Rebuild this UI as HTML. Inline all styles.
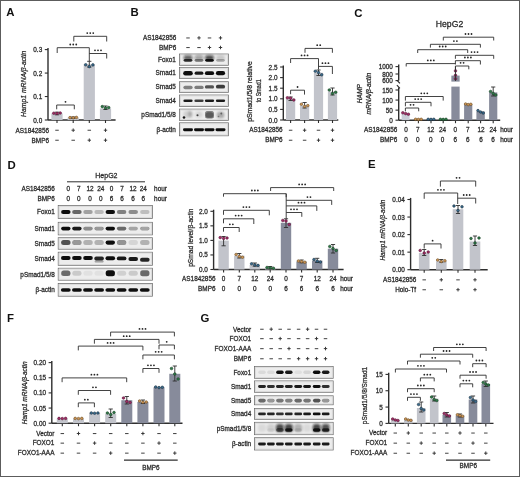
<!DOCTYPE html>
<html><head><meta charset="utf-8"><style>
html,body{margin:0;padding:0;background:#fff;}
body{width:520px;height:477px;overflow:hidden;}
svg{display:block;font-family:"Liberation Sans", sans-serif;will-change:transform;filter:blur(0.3px);}
</style></head><body>
<svg width="520" height="477" viewBox="0 0 520 477">
<defs>
<filter id="b0" x="-100%" y="-100%" width="300%" height="300%"><feGaussianBlur stdDeviation="0.4"/></filter>
<filter id="b1" x="-50%" y="-100%" width="200%" height="300%"><feGaussianBlur stdDeviation="0.55"/></filter>
<filter id="b2" x="-50%" y="-100%" width="200%" height="300%"><feGaussianBlur stdDeviation="1.2"/></filter>
</defs>
<rect x="0" y="0" width="520" height="477" fill="#fff"/>
<text x="6.3" y="16.2" font-size="11.4" text-anchor="start" font-weight="bold" font-style="normal" fill="#111">A</text>
<line x1="48" y1="48.0" x2="48" y2="120.0" stroke="#2e2e2e" stroke-width="1.4"/>
<line x1="44.8" y1="120.0" x2="48" y2="120.0" stroke="#2e2e2e" stroke-width="1.1"/>
<text x="42.199999999999996" y="122.5" font-size="6.4" text-anchor="end" font-weight="normal" font-style="normal" fill="#2a2a2a" stroke="#2a2a2a" stroke-width="0.26">0.0</text>
<line x1="44.8" y1="96.53333333333333" x2="48" y2="96.53333333333333" stroke="#2e2e2e" stroke-width="1.1"/>
<text x="42.199999999999996" y="99.03333333333333" font-size="6.4" text-anchor="end" font-weight="normal" font-style="normal" fill="#2a2a2a" stroke="#2a2a2a" stroke-width="0.26">0.1</text>
<line x1="44.8" y1="73.06666666666666" x2="48" y2="73.06666666666666" stroke="#2e2e2e" stroke-width="1.1"/>
<text x="42.199999999999996" y="75.56666666666666" font-size="6.4" text-anchor="end" font-weight="normal" font-style="normal" fill="#2a2a2a" stroke="#2a2a2a" stroke-width="0.26">0.2</text>
<line x1="44.8" y1="49.599999999999994" x2="48" y2="49.599999999999994" stroke="#2e2e2e" stroke-width="1.1"/>
<text x="42.199999999999996" y="52.099999999999994" font-size="6.4" text-anchor="end" font-weight="normal" font-style="normal" fill="#2a2a2a" stroke="#2a2a2a" stroke-width="0.26">0.3</text>
<line x1="48" y1="120.0" x2="115.6" y2="120.0" stroke="#2e2e2e" stroke-width="1.4"/>
<line x1="57" y1="120.0" x2="57" y2="123.0" stroke="#2e2e2e" stroke-width="1.1"/>
<line x1="73.2" y1="120.0" x2="73.2" y2="123.0" stroke="#2e2e2e" stroke-width="1.1"/>
<line x1="89.3" y1="120.0" x2="89.3" y2="123.0" stroke="#2e2e2e" stroke-width="1.1"/>
<line x1="105.5" y1="120.0" x2="105.5" y2="123.0" stroke="#2e2e2e" stroke-width="1.1"/>
<rect x="51.40" y="113.40" width="11.20" height="6.60" fill="#c2c4cb"/>
<rect x="67.60" y="117.60" width="11.20" height="2.40" fill="#c2c4cb"/>
<rect x="83.70" y="64.40" width="11.20" height="55.60" fill="#c2c4cb"/>
<rect x="99.90" y="108.40" width="11.20" height="11.60" fill="#c2c4cb"/>
<line x1="57" y1="112.2" x2="57" y2="114.8" stroke="#2e2e2e" stroke-width="0.9"/>
<line x1="54.9" y1="112.2" x2="59.1" y2="112.2" stroke="#2e2e2e" stroke-width="0.9"/>
<line x1="54.9" y1="114.8" x2="59.1" y2="114.8" stroke="#2e2e2e" stroke-width="0.9"/>
<circle cx="53.80" cy="113.20" r="1.32" fill="#a02e64" stroke="#551236" stroke-width="0.55"/>
<circle cx="57.00" cy="113.40" r="1.32" fill="#a02e64" stroke="#551236" stroke-width="0.55"/>
<circle cx="60.20" cy="113.00" r="1.32" fill="#a02e64" stroke="#551236" stroke-width="0.55"/>
<line x1="73.2" y1="117.0" x2="73.2" y2="118.4" stroke="#2e2e2e" stroke-width="0.9"/>
<line x1="71.10000000000001" y1="117.0" x2="75.3" y2="117.0" stroke="#2e2e2e" stroke-width="0.9"/>
<line x1="71.10000000000001" y1="118.4" x2="75.3" y2="118.4" stroke="#2e2e2e" stroke-width="0.9"/>
<circle cx="70.00" cy="117.60" r="1.32" fill="#cc9656" stroke="#654520" stroke-width="0.55"/>
<circle cx="73.20" cy="117.80" r="1.32" fill="#cc9656" stroke="#654520" stroke-width="0.55"/>
<circle cx="76.40" cy="117.40" r="1.32" fill="#cc9656" stroke="#654520" stroke-width="0.55"/>
<line x1="89.3" y1="61.3" x2="89.3" y2="67.1" stroke="#2e2e2e" stroke-width="0.9"/>
<line x1="87.2" y1="61.3" x2="91.39999999999999" y2="61.3" stroke="#2e2e2e" stroke-width="0.9"/>
<line x1="87.2" y1="67.1" x2="91.39999999999999" y2="67.1" stroke="#2e2e2e" stroke-width="0.9"/>
<circle cx="85.70" cy="64.80" r="1.32" fill="#3a6c8e" stroke="#182c3a" stroke-width="0.55"/>
<circle cx="89.30" cy="66.60" r="1.32" fill="#3a6c8e" stroke="#182c3a" stroke-width="0.55"/>
<circle cx="92.90" cy="64.90" r="1.32" fill="#3a6c8e" stroke="#182c3a" stroke-width="0.55"/>
<line x1="105.5" y1="106.0" x2="105.5" y2="109.5" stroke="#2e2e2e" stroke-width="0.9"/>
<line x1="103.4" y1="106.0" x2="107.6" y2="106.0" stroke="#2e2e2e" stroke-width="0.9"/>
<line x1="103.4" y1="109.5" x2="107.6" y2="109.5" stroke="#2e2e2e" stroke-width="0.9"/>
<circle cx="102.30" cy="106.60" r="1.32" fill="#2f7a4a" stroke="#143a20" stroke-width="0.55"/>
<circle cx="105.50" cy="108.00" r="1.32" fill="#2f7a4a" stroke="#143a20" stroke-width="0.55"/>
<circle cx="108.70" cy="107.60" r="1.32" fill="#2f7a4a" stroke="#143a20" stroke-width="0.55"/>
<path d="M56.7,109.3 L56.7,105.0 L74.3,105.0 L74.3,109.3" stroke="#2e2e2e" stroke-width="0.9" fill="none"/>
<circle cx="65.50" cy="101.80" r="0.9" fill="#262626"/>
<path d="M57.2,53.0 L57.2,47.7 L89.3,47.7 L89.3,61.2" stroke="#2e2e2e" stroke-width="0.9" fill="none"/>
<circle cx="70.25" cy="44.50" r="0.9" fill="#262626"/>
<circle cx="73.25" cy="44.50" r="0.9" fill="#262626"/>
<circle cx="76.25" cy="44.50" r="0.9" fill="#262626"/>
<path d="M89.3,53.5 L89.3,53.5 L106.7,53.5 L106.7,58.5" stroke="#2e2e2e" stroke-width="0.9" fill="none"/>
<circle cx="95.00" cy="50.30" r="0.9" fill="#262626"/>
<circle cx="98.00" cy="50.30" r="0.9" fill="#262626"/>
<circle cx="101.00" cy="50.30" r="0.9" fill="#262626"/>
<path d="M73.8,41.5 L73.8,36.3 L106.7,36.3 L106.7,41.5" stroke="#2e2e2e" stroke-width="0.9" fill="none"/>
<circle cx="87.25" cy="33.10" r="0.9" fill="#262626"/>
<circle cx="90.25" cy="33.10" r="0.9" fill="#262626"/>
<circle cx="93.25" cy="33.10" r="0.9" fill="#262626"/>
<text x="49" y="132.5" font-size="6.4" text-anchor="end" font-weight="normal" font-style="normal" fill="#2a2a2a" stroke="#2a2a2a" stroke-width="0.26">AS1842856</text>
<text x="49" y="142.5" font-size="6.4" text-anchor="end" font-weight="normal" font-style="normal" fill="#2a2a2a" stroke="#2a2a2a" stroke-width="0.26">BMP6</text>
<line x1="55.25" y1="130.25" x2="58.75" y2="130.25" stroke="#4a4a4a" stroke-width="1.05"/>
<line x1="71.5" y1="130.20000000000002" x2="74.9" y2="130.20000000000002" stroke="#333" stroke-width="0.95"/>
<line x1="73.2" y1="128.45000000000002" x2="73.2" y2="131.95000000000002" stroke="#333" stroke-width="0.95"/>
<line x1="87.55" y1="130.25" x2="91.05" y2="130.25" stroke="#4a4a4a" stroke-width="1.05"/>
<line x1="103.8" y1="130.20000000000002" x2="107.2" y2="130.20000000000002" stroke="#333" stroke-width="0.95"/>
<line x1="105.5" y1="128.45000000000002" x2="105.5" y2="131.95000000000002" stroke="#333" stroke-width="0.95"/>
<line x1="55.25" y1="140.25" x2="58.75" y2="140.25" stroke="#4a4a4a" stroke-width="1.05"/>
<line x1="71.45" y1="140.25" x2="74.95" y2="140.25" stroke="#4a4a4a" stroke-width="1.05"/>
<line x1="87.6" y1="140.20000000000002" x2="91.0" y2="140.20000000000002" stroke="#333" stroke-width="0.95"/>
<line x1="89.3" y1="138.45000000000002" x2="89.3" y2="141.95000000000002" stroke="#333" stroke-width="0.95"/>
<line x1="103.8" y1="140.20000000000002" x2="107.2" y2="140.20000000000002" stroke="#333" stroke-width="0.95"/>
<line x1="105.5" y1="138.45000000000002" x2="105.5" y2="141.95000000000002" stroke="#333" stroke-width="0.95"/>
<text x="26.5" y="83.8" font-size="7.2" text-anchor="middle" font-weight="normal" font-style="italic" fill="#2a2a2a" stroke="#2a2a2a" stroke-width="0.26" transform="rotate(-90 26.5 83.8)" textLength="66.2" lengthAdjust="spacingAndGlyphs">Hamp1 mRNA/β-actin</text>
<text x="130.6" y="16.2" font-size="11.4" text-anchor="start" font-weight="bold" font-style="normal" fill="#111">B</text>
<text x="176.3" y="40" font-size="6.4" text-anchor="end" font-weight="normal" font-style="normal" fill="#2a2a2a" stroke="#2a2a2a" stroke-width="0.26">AS1842856</text>
<text x="176.3" y="49.6" font-size="6.4" text-anchor="end" font-weight="normal" font-style="normal" fill="#2a2a2a" stroke="#2a2a2a" stroke-width="0.26">BMP6</text>
<line x1="186.25" y1="37.95" x2="189.75" y2="37.95" stroke="#4a4a4a" stroke-width="1.05"/>
<line x1="197.3" y1="37.9" x2="200.7" y2="37.9" stroke="#333" stroke-width="0.95"/>
<line x1="199" y1="36.15" x2="199" y2="39.65" stroke="#333" stroke-width="0.95"/>
<line x1="207.75" y1="37.95" x2="211.25" y2="37.95" stroke="#4a4a4a" stroke-width="1.05"/>
<line x1="218.8" y1="37.9" x2="222.2" y2="37.9" stroke="#333" stroke-width="0.95"/>
<line x1="220.5" y1="36.15" x2="220.5" y2="39.65" stroke="#333" stroke-width="0.95"/>
<line x1="186.25" y1="47.550000000000004" x2="189.75" y2="47.550000000000004" stroke="#4a4a4a" stroke-width="1.05"/>
<line x1="197.25" y1="47.550000000000004" x2="200.75" y2="47.550000000000004" stroke="#4a4a4a" stroke-width="1.05"/>
<line x1="207.8" y1="47.5" x2="211.2" y2="47.5" stroke="#333" stroke-width="0.95"/>
<line x1="209.5" y1="45.75" x2="209.5" y2="49.25" stroke="#333" stroke-width="0.95"/>
<line x1="218.8" y1="47.5" x2="222.2" y2="47.5" stroke="#333" stroke-width="0.95"/>
<line x1="220.5" y1="45.75" x2="220.5" y2="49.25" stroke="#333" stroke-width="0.95"/>
<rect x="179.5" y="54.0" width="48.900000000000006" height="11.299999999999997" fill="#ededed" stroke="#6a6a6a" stroke-width="0.75"/>
<rect x="180.4" y="54.9" width="47.10000000000001" height="9.499999999999996" fill="none" stroke="#d8d8d8" stroke-width="0.8"/>
<text x="175.8" y="61.949999999999996" font-size="6.4" text-anchor="end" font-weight="normal" font-style="normal" fill="#2a2a2a" stroke="#2a2a2a" stroke-width="0.26">Foxo1</text>
<rect x="179.5" y="67.4" width="48.900000000000006" height="11.199999999999989" fill="#ededed" stroke="#6a6a6a" stroke-width="0.75"/>
<rect x="180.4" y="68.30000000000001" width="47.10000000000001" height="9.399999999999988" fill="none" stroke="#d8d8d8" stroke-width="0.8"/>
<text x="175.8" y="75.3" font-size="6.4" text-anchor="end" font-weight="normal" font-style="normal" fill="#2a2a2a" stroke="#2a2a2a" stroke-width="0.26">Smad1</text>
<rect x="179.5" y="81.7" width="48.900000000000006" height="10.899999999999991" fill="#ededed" stroke="#6a6a6a" stroke-width="0.75"/>
<rect x="180.4" y="82.60000000000001" width="47.10000000000001" height="9.09999999999999" fill="none" stroke="#d8d8d8" stroke-width="0.8"/>
<text x="175.8" y="89.45" font-size="6.4" text-anchor="end" font-weight="normal" font-style="normal" fill="#2a2a2a" stroke="#2a2a2a" stroke-width="0.26">Smad5</text>
<rect x="179.5" y="95.0" width="48.900000000000006" height="11.400000000000006" fill="#ededed" stroke="#6a6a6a" stroke-width="0.75"/>
<rect x="180.4" y="95.9" width="47.10000000000001" height="9.600000000000005" fill="none" stroke="#d8d8d8" stroke-width="0.8"/>
<text x="175.8" y="103.0" font-size="6.4" text-anchor="end" font-weight="normal" font-style="normal" fill="#2a2a2a" stroke="#2a2a2a" stroke-width="0.26">Smad4</text>
<rect x="179.5" y="109.1" width="48.900000000000006" height="11.5" fill="#ededed" stroke="#6a6a6a" stroke-width="0.75"/>
<rect x="180.4" y="110.0" width="47.10000000000001" height="9.7" fill="none" stroke="#d8d8d8" stroke-width="0.8"/>
<text x="175.8" y="117.14999999999999" font-size="6.4" text-anchor="end" font-weight="normal" font-style="normal" fill="#2a2a2a" stroke="#2a2a2a" stroke-width="0.26">pSmad1/5/8</text>
<rect x="179.5" y="122.8" width="48.900000000000006" height="13.000000000000014" fill="#ededed" stroke="#6a6a6a" stroke-width="0.75"/>
<rect x="180.4" y="123.7" width="47.10000000000001" height="11.200000000000014" fill="none" stroke="#d8d8d8" stroke-width="0.8"/>
<text x="175.8" y="131.60000000000002" font-size="6.4" text-anchor="end" font-weight="normal" font-style="normal" fill="#2a2a2a" stroke="#2a2a2a" stroke-width="0.26">β-actin</text>
<rect x="183.60" y="55.30" width="8.80" height="5.00" rx="2.50" fill="#111" fill-opacity="0.62" filter="url(#b2)"/>
<rect x="183.70" y="58.90" width="8.60" height="2.80" rx="1.40" fill="#111" fill-opacity="0.85" filter="url(#b1)"/>
<rect x="194.60" y="55.30" width="8.80" height="5.00" rx="2.50" fill="#111" fill-opacity="0.36" filter="url(#b2)"/>
<rect x="194.70" y="58.90" width="8.60" height="2.80" rx="1.40" fill="#111" fill-opacity="0.50" filter="url(#b1)"/>
<rect x="205.10" y="55.30" width="8.80" height="5.00" rx="2.50" fill="#111" fill-opacity="0.72" filter="url(#b2)"/>
<rect x="205.20" y="58.90" width="8.60" height="2.80" rx="1.40" fill="#111" fill-opacity="1.00" filter="url(#b1)"/>
<rect x="216.10" y="55.30" width="8.80" height="5.00" rx="2.50" fill="#111" fill-opacity="0.16" filter="url(#b2)"/>
<rect x="216.20" y="58.90" width="8.60" height="2.80" rx="1.40" fill="#111" fill-opacity="0.28" filter="url(#b1)"/>
<rect x="183.20" y="71.00" width="9.60" height="4.40" rx="2.20" fill="#111" fill-opacity="1.00" filter="url(#b1)"/>
<rect x="194.60" y="71.55" width="8.80" height="3.30" rx="1.65" fill="#111" fill-opacity="0.95" filter="url(#b1)"/>
<rect x="204.90" y="71.30" width="9.20" height="3.80" rx="1.90" fill="#111" fill-opacity="1.00" filter="url(#b1)"/>
<rect x="215.90" y="71.10" width="9.20" height="4.20" rx="2.10" fill="#111" fill-opacity="1.00" filter="url(#b1)"/>
<rect x="183.40" y="85.80" width="9.20" height="3.40" rx="1.70" fill="#111" fill-opacity="0.50" filter="url(#b1)"/>
<rect x="194.40" y="85.80" width="9.20" height="3.20" rx="1.60" fill="#111" fill-opacity="0.52" filter="url(#b1)"/>
<rect x="204.90" y="85.30" width="9.20" height="3.20" rx="1.60" fill="#111" fill-opacity="0.70" filter="url(#b1)"/>
<rect x="215.90" y="84.80" width="9.20" height="3.80" rx="1.90" fill="#111" fill-opacity="0.80" filter="url(#b1)"/>
<rect x="183.40" y="99.50" width="9.20" height="2.60" rx="1.30" fill="#111" fill-opacity="0.95" filter="url(#b1)"/>
<rect x="194.40" y="99.50" width="9.20" height="2.60" rx="1.30" fill="#111" fill-opacity="0.80" filter="url(#b1)"/>
<rect x="204.90" y="99.50" width="9.20" height="2.60" rx="1.30" fill="#111" fill-opacity="0.95" filter="url(#b1)"/>
<rect x="215.90" y="99.50" width="9.20" height="2.60" rx="1.30" fill="#111" fill-opacity="0.95" filter="url(#b1)"/>
<rect x="183.50" y="111.00" width="9.00" height="7.00" rx="2.50" fill="#111" fill-opacity="0.12" filter="url(#b2)"/>
<rect x="188.00" y="111.00" width="4.00" height="6.00" rx="2.50" fill="#111" fill-opacity="0.18" filter="url(#b2)"/>
<circle cx="184.00" cy="117.50" r="1.30" fill="#111" fill-opacity="0.95" filter="url(#b0)"/>
<rect x="195.50" y="111.50" width="7.00" height="6.00" rx="2.50" fill="#111" fill-opacity="0.10" filter="url(#b2)"/>
<circle cx="197.50" cy="115.20" r="1.00" fill="#111" fill-opacity="0.75" filter="url(#b0)"/>
<rect x="205.00" y="111.00" width="9.00" height="7.60" rx="2.50" fill="#111" fill-opacity="0.50" filter="url(#b1)"/>
<rect x="205.75" y="112.25" width="7.50" height="5.50" rx="2.50" fill="#111" fill-opacity="0.30" filter="url(#b1)"/>
<rect x="216.75" y="111.75" width="7.50" height="6.50" rx="2.50" fill="#111" fill-opacity="0.28" filter="url(#b2)"/>
<circle cx="221.30" cy="113.50" r="0.90" fill="#111" fill-opacity="0.50" filter="url(#b0)"/>
<circle cx="218.50" cy="116.50" r="0.80" fill="#111" fill-opacity="0.40" filter="url(#b0)"/>
<rect x="183.00" y="128.35" width="10.00" height="2.90" rx="1.45" fill="#111" fill-opacity="1.00" filter="url(#b1)"/>
<rect x="194.00" y="128.35" width="10.00" height="2.90" rx="1.45" fill="#111" fill-opacity="1.00" filter="url(#b1)"/>
<rect x="204.50" y="128.35" width="10.00" height="2.90" rx="1.45" fill="#111" fill-opacity="1.00" filter="url(#b1)"/>
<rect x="215.50" y="128.35" width="10.00" height="2.90" rx="1.45" fill="#111" fill-opacity="1.00" filter="url(#b1)"/>
<line x1="283.3" y1="65.4" x2="283.3" y2="120.0" stroke="#2e2e2e" stroke-width="1.4"/>
<line x1="280.1" y1="120.0" x2="283.3" y2="120.0" stroke="#2e2e2e" stroke-width="1.1"/>
<text x="277.5" y="122.5" font-size="6.4" text-anchor="end" font-weight="normal" font-style="normal" fill="#2a2a2a" stroke="#2a2a2a" stroke-width="0.26">0.0</text>
<line x1="280.1" y1="109.4" x2="283.3" y2="109.4" stroke="#2e2e2e" stroke-width="1.1"/>
<text x="277.5" y="111.9" font-size="6.4" text-anchor="end" font-weight="normal" font-style="normal" fill="#2a2a2a" stroke="#2a2a2a" stroke-width="0.26">0.5</text>
<line x1="280.1" y1="98.8" x2="283.3" y2="98.8" stroke="#2e2e2e" stroke-width="1.1"/>
<text x="277.5" y="101.3" font-size="6.4" text-anchor="end" font-weight="normal" font-style="normal" fill="#2a2a2a" stroke="#2a2a2a" stroke-width="0.26">1.0</text>
<line x1="280.1" y1="88.2" x2="283.3" y2="88.2" stroke="#2e2e2e" stroke-width="1.1"/>
<text x="277.5" y="90.7" font-size="6.4" text-anchor="end" font-weight="normal" font-style="normal" fill="#2a2a2a" stroke="#2a2a2a" stroke-width="0.26">1.5</text>
<line x1="280.1" y1="77.6" x2="283.3" y2="77.6" stroke="#2e2e2e" stroke-width="1.1"/>
<text x="277.5" y="80.1" font-size="6.4" text-anchor="end" font-weight="normal" font-style="normal" fill="#2a2a2a" stroke="#2a2a2a" stroke-width="0.26">2.0</text>
<line x1="280.1" y1="67.0" x2="283.3" y2="67.0" stroke="#2e2e2e" stroke-width="1.1"/>
<text x="277.5" y="69.5" font-size="6.4" text-anchor="end" font-weight="normal" font-style="normal" fill="#2a2a2a" stroke="#2a2a2a" stroke-width="0.26">2.5</text>
<line x1="283.3" y1="120.0" x2="338.3" y2="120.0" stroke="#2e2e2e" stroke-width="1.4"/>
<line x1="290.6" y1="120.0" x2="290.6" y2="123.0" stroke="#2e2e2e" stroke-width="1.1"/>
<line x1="304.6" y1="120.0" x2="304.6" y2="123.0" stroke="#2e2e2e" stroke-width="1.1"/>
<line x1="318.5" y1="120.0" x2="318.5" y2="123.0" stroke="#2e2e2e" stroke-width="1.1"/>
<line x1="332.5" y1="120.0" x2="332.5" y2="123.0" stroke="#2e2e2e" stroke-width="1.1"/>
<rect x="286.00" y="98.60" width="9.20" height="21.40" fill="#c2c4cb"/>
<rect x="300.00" y="105.50" width="9.20" height="14.50" fill="#c2c4cb"/>
<rect x="313.90" y="72.80" width="9.20" height="47.20" fill="#c2c4cb"/>
<rect x="327.90" y="91.50" width="9.20" height="28.50" fill="#c2c4cb"/>
<line x1="290.6" y1="97.0" x2="290.6" y2="100.5" stroke="#2e2e2e" stroke-width="0.9"/>
<line x1="288.5" y1="97.0" x2="292.70000000000005" y2="97.0" stroke="#2e2e2e" stroke-width="0.9"/>
<line x1="288.5" y1="100.5" x2="292.70000000000005" y2="100.5" stroke="#2e2e2e" stroke-width="0.9"/>
<circle cx="287.40" cy="97.80" r="1.32" fill="#a02e64" stroke="#551236" stroke-width="0.55"/>
<circle cx="290.60" cy="98.20" r="1.32" fill="#a02e64" stroke="#551236" stroke-width="0.55"/>
<circle cx="293.80" cy="100.00" r="1.32" fill="#a02e64" stroke="#551236" stroke-width="0.55"/>
<line x1="304.6" y1="102.5" x2="304.6" y2="108" stroke="#2e2e2e" stroke-width="0.9"/>
<line x1="302.5" y1="102.5" x2="306.70000000000005" y2="102.5" stroke="#2e2e2e" stroke-width="0.9"/>
<line x1="302.5" y1="108" x2="306.70000000000005" y2="108" stroke="#2e2e2e" stroke-width="0.9"/>
<circle cx="301.40" cy="104.20" r="1.32" fill="#cc9656" stroke="#654520" stroke-width="0.55"/>
<circle cx="304.60" cy="106.50" r="1.32" fill="#cc9656" stroke="#654520" stroke-width="0.55"/>
<circle cx="307.80" cy="105.60" r="1.32" fill="#cc9656" stroke="#654520" stroke-width="0.55"/>
<line x1="318.5" y1="70.0" x2="318.5" y2="75.5" stroke="#2e2e2e" stroke-width="0.9"/>
<line x1="316.4" y1="70.0" x2="320.6" y2="70.0" stroke="#2e2e2e" stroke-width="0.9"/>
<line x1="316.4" y1="75.5" x2="320.6" y2="75.5" stroke="#2e2e2e" stroke-width="0.9"/>
<circle cx="315.30" cy="71.20" r="1.32" fill="#3a6c8e" stroke="#182c3a" stroke-width="0.55"/>
<circle cx="318.50" cy="72.50" r="1.32" fill="#3a6c8e" stroke="#182c3a" stroke-width="0.55"/>
<circle cx="321.70" cy="74.80" r="1.32" fill="#3a6c8e" stroke="#182c3a" stroke-width="0.55"/>
<line x1="332.5" y1="88.0" x2="332.5" y2="95.0" stroke="#2e2e2e" stroke-width="0.9"/>
<line x1="330.4" y1="88.0" x2="334.6" y2="88.0" stroke="#2e2e2e" stroke-width="0.9"/>
<line x1="330.4" y1="95.0" x2="334.6" y2="95.0" stroke="#2e2e2e" stroke-width="0.9"/>
<circle cx="329.30" cy="90.00" r="1.32" fill="#2f7a4a" stroke="#143a20" stroke-width="0.55"/>
<circle cx="332.50" cy="93.50" r="1.32" fill="#2f7a4a" stroke="#143a20" stroke-width="0.55"/>
<circle cx="335.70" cy="92.20" r="1.32" fill="#2f7a4a" stroke="#143a20" stroke-width="0.55"/>
<path d="M290.6,94.2 L290.6,90.2 L304.5,90.2 L304.5,94.60000000000001" stroke="#2e2e2e" stroke-width="0.9" fill="none"/>
<circle cx="297.55" cy="87.00" r="0.9" fill="#262626"/>
<path d="M290.6,63.0 L290.6,58.6 L318.5,58.6 L318.5,69.6" stroke="#2e2e2e" stroke-width="0.9" fill="none"/>
<circle cx="301.55" cy="55.40" r="0.9" fill="#262626"/>
<circle cx="304.55" cy="55.40" r="0.9" fill="#262626"/>
<circle cx="307.55" cy="55.40" r="0.9" fill="#262626"/>
<path d="M318.5,66.4 L318.5,66.4 L332.4,66.4 L332.4,74.0" stroke="#2e2e2e" stroke-width="0.9" fill="none"/>
<circle cx="322.45" cy="63.20" r="0.9" fill="#262626"/>
<circle cx="325.45" cy="63.20" r="0.9" fill="#262626"/>
<circle cx="328.45" cy="63.20" r="0.9" fill="#262626"/>
<path d="M305,52.8 L305,48.4 L332.4,48.4 L332.4,52.8" stroke="#2e2e2e" stroke-width="0.9" fill="none"/>
<circle cx="317.20" cy="45.20" r="0.9" fill="#262626"/>
<circle cx="320.20" cy="45.20" r="0.9" fill="#262626"/>
<text x="282.6" y="132.2" font-size="6.4" text-anchor="end" font-weight="normal" font-style="normal" fill="#2a2a2a" stroke="#2a2a2a" stroke-width="0.26">AS1842856</text>
<text x="282.6" y="142.2" font-size="6.4" text-anchor="end" font-weight="normal" font-style="normal" fill="#2a2a2a" stroke="#2a2a2a" stroke-width="0.26">BMP6</text>
<line x1="288.85" y1="130.25" x2="292.35" y2="130.25" stroke="#4a4a4a" stroke-width="1.05"/>
<line x1="302.90000000000003" y1="130.20000000000002" x2="306.3" y2="130.20000000000002" stroke="#333" stroke-width="0.95"/>
<line x1="304.6" y1="128.45000000000002" x2="304.6" y2="131.95000000000002" stroke="#333" stroke-width="0.95"/>
<line x1="316.75" y1="130.25" x2="320.25" y2="130.25" stroke="#4a4a4a" stroke-width="1.05"/>
<line x1="330.8" y1="130.20000000000002" x2="334.2" y2="130.20000000000002" stroke="#333" stroke-width="0.95"/>
<line x1="332.5" y1="128.45000000000002" x2="332.5" y2="131.95000000000002" stroke="#333" stroke-width="0.95"/>
<line x1="288.85" y1="140.25" x2="292.35" y2="140.25" stroke="#4a4a4a" stroke-width="1.05"/>
<line x1="302.85" y1="140.25" x2="306.35" y2="140.25" stroke="#4a4a4a" stroke-width="1.05"/>
<line x1="316.8" y1="140.20000000000002" x2="320.2" y2="140.20000000000002" stroke="#333" stroke-width="0.95"/>
<line x1="318.5" y1="138.45000000000002" x2="318.5" y2="141.95000000000002" stroke="#333" stroke-width="0.95"/>
<line x1="330.8" y1="140.20000000000002" x2="334.2" y2="140.20000000000002" stroke="#333" stroke-width="0.95"/>
<line x1="332.5" y1="138.45000000000002" x2="332.5" y2="141.95000000000002" stroke="#333" stroke-width="0.95"/>
<text x="252.4" y="91.5" font-size="6.8" text-anchor="middle" font-weight="normal" font-style="normal" fill="#2a2a2a" stroke="#2a2a2a" stroke-width="0.26" transform="rotate(-90 252.4 91.5)" textLength="60.5" lengthAdjust="spacingAndGlyphs">pSmad1/5/8 relative</text>
<text x="261.3" y="90.8" font-size="6.8" text-anchor="middle" font-weight="normal" font-style="normal" fill="#2a2a2a" stroke="#2a2a2a" stroke-width="0.26" transform="rotate(-90 261.3 90.8)" textLength="22.8" lengthAdjust="spacingAndGlyphs">to Smad1</text>
<text x="354.3" y="16.8" font-size="11.4" text-anchor="start" font-weight="bold" font-style="normal" fill="#111">C</text>
<text x="449.5" y="26.8" font-size="8.4" text-anchor="middle" font-weight="normal" font-style="normal" fill="#2a2a2a" stroke="#2a2a2a" stroke-width="0.26" textLength="27.4" lengthAdjust="spacingAndGlyphs">HepG2</text>
<line x1="398.7" y1="64.6" x2="398.7" y2="80.6" stroke="#2e2e2e" stroke-width="1.4"/>
<path d="M396.9,80.2 L399.9,83.4" stroke="#2e2e2e" stroke-width="1.2" fill="none"/>
<path d="M396.9,85.2 L399.9,88.4" stroke="#2e2e2e" stroke-width="1.2" fill="none"/>
<line x1="398.7" y1="87.6" x2="398.7" y2="120.2" stroke="#2e2e2e" stroke-width="1.4"/>
<line x1="395.5" y1="80.6" x2="398.7" y2="80.6" stroke="#2e2e2e" stroke-width="1.1"/>
<text x="392.9" y="83.1" font-size="6.4" text-anchor="end" font-weight="normal" font-style="normal" fill="#2a2a2a" stroke="#2a2a2a" stroke-width="0.26">600</text>
<line x1="395.5" y1="74.0" x2="398.7" y2="74.0" stroke="#2e2e2e" stroke-width="1.1"/>
<text x="392.9" y="76.5" font-size="6.4" text-anchor="end" font-weight="normal" font-style="normal" fill="#2a2a2a" stroke="#2a2a2a" stroke-width="0.26">800</text>
<line x1="395.5" y1="66.6" x2="398.7" y2="66.6" stroke="#2e2e2e" stroke-width="1.1"/>
<text x="392.9" y="69.1" font-size="6.4" text-anchor="end" font-weight="normal" font-style="normal" fill="#2a2a2a" stroke="#2a2a2a" stroke-width="0.26">1000</text>
<line x1="395.5" y1="120.2" x2="398.7" y2="120.2" stroke="#2e2e2e" stroke-width="1.1"/>
<text x="392.9" y="122.7" font-size="6.4" text-anchor="end" font-weight="normal" font-style="normal" fill="#2a2a2a" stroke="#2a2a2a" stroke-width="0.26">0</text>
<line x1="395.5" y1="110.13333333333334" x2="398.7" y2="110.13333333333334" stroke="#2e2e2e" stroke-width="1.1"/>
<text x="392.9" y="112.63333333333334" font-size="6.4" text-anchor="end" font-weight="normal" font-style="normal" fill="#2a2a2a" stroke="#2a2a2a" stroke-width="0.26">50</text>
<line x1="395.5" y1="100.06666666666666" x2="398.7" y2="100.06666666666666" stroke="#2e2e2e" stroke-width="1.1"/>
<text x="392.9" y="102.56666666666666" font-size="6.4" text-anchor="end" font-weight="normal" font-style="normal" fill="#2a2a2a" stroke="#2a2a2a" stroke-width="0.26">100</text>
<line x1="395.5" y1="90.0" x2="398.7" y2="90.0" stroke="#2e2e2e" stroke-width="1.1"/>
<text x="392.9" y="92.5" font-size="6.4" text-anchor="end" font-weight="normal" font-style="normal" fill="#2a2a2a" stroke="#2a2a2a" stroke-width="0.26">150</text>
<line x1="398.7" y1="120.2" x2="500.2" y2="120.2" stroke="#2e2e2e" stroke-width="1.4"/>
<line x1="405.6" y1="120.2" x2="405.6" y2="123.2" stroke="#2e2e2e" stroke-width="1.1"/>
<line x1="418.4" y1="120.2" x2="418.4" y2="123.2" stroke="#2e2e2e" stroke-width="1.1"/>
<line x1="431.0" y1="120.2" x2="431.0" y2="123.2" stroke="#2e2e2e" stroke-width="1.1"/>
<line x1="443.2" y1="120.2" x2="443.2" y2="123.2" stroke="#2e2e2e" stroke-width="1.1"/>
<line x1="455.5" y1="120.2" x2="455.5" y2="123.2" stroke="#2e2e2e" stroke-width="1.1"/>
<line x1="468.2" y1="120.2" x2="468.2" y2="123.2" stroke="#2e2e2e" stroke-width="1.1"/>
<line x1="480.6" y1="120.2" x2="480.6" y2="123.2" stroke="#2e2e2e" stroke-width="1.1"/>
<line x1="493.2" y1="120.2" x2="493.2" y2="123.2" stroke="#2e2e2e" stroke-width="1.1"/>
<rect x="401.60" y="113.80" width="8.00" height="6.40" fill="#c9ccd6"/>
<circle cx="402.80" cy="112.80" r="1.32" fill="#a02e64" stroke="#551236" stroke-width="0.55"/>
<circle cx="405.60" cy="113.60" r="1.32" fill="#a02e64" stroke="#551236" stroke-width="0.55"/>
<circle cx="408.40" cy="114.20" r="1.32" fill="#a02e64" stroke="#551236" stroke-width="0.55"/>
<circle cx="415.60" cy="119.30" r="1.32" fill="#cc9656" stroke="#654520" stroke-width="0.55"/>
<circle cx="418.40" cy="119.40" r="1.32" fill="#cc9656" stroke="#654520" stroke-width="0.55"/>
<circle cx="421.20" cy="119.30" r="1.32" fill="#cc9656" stroke="#654520" stroke-width="0.55"/>
<circle cx="428.20" cy="119.30" r="1.32" fill="#3a6c8e" stroke="#182c3a" stroke-width="0.55"/>
<circle cx="431.00" cy="119.40" r="1.32" fill="#3a6c8e" stroke="#182c3a" stroke-width="0.55"/>
<circle cx="433.80" cy="119.30" r="1.32" fill="#3a6c8e" stroke="#182c3a" stroke-width="0.55"/>
<circle cx="440.40" cy="119.30" r="1.32" fill="#2f7a4a" stroke="#143a20" stroke-width="0.55"/>
<circle cx="443.20" cy="119.40" r="1.32" fill="#2f7a4a" stroke="#143a20" stroke-width="0.55"/>
<circle cx="446.00" cy="119.30" r="1.32" fill="#2f7a4a" stroke="#143a20" stroke-width="0.55"/>
<rect x="451.35" y="86.60" width="8.30" height="33.60" fill="#878b9b"/>
<rect x="451.35" y="75.60" width="8.30" height="6.00" fill="#878b9b"/>
<circle cx="455.50" cy="70.90" r="1.32" fill="#a02e64" stroke="#551236" stroke-width="0.55"/>
<circle cx="455.50" cy="75.20" r="1.32" fill="#a02e64" stroke="#551236" stroke-width="0.55"/>
<circle cx="455.50" cy="78.80" r="1.32" fill="#a02e64" stroke="#551236" stroke-width="0.55"/>
<line x1="455.5" y1="66.5" x2="455.5" y2="81" stroke="#2e2e2e" stroke-width="0.9"/>
<rect x="464.10" y="104.30" width="8.20" height="15.90" fill="#878b9b"/>
<circle cx="465.60" cy="104.00" r="1.32" fill="#cc9656" stroke="#654520" stroke-width="0.55"/>
<circle cx="468.20" cy="104.60" r="1.32" fill="#cc9656" stroke="#654520" stroke-width="0.55"/>
<circle cx="470.80" cy="104.30" r="1.32" fill="#cc9656" stroke="#654520" stroke-width="0.55"/>
<rect x="476.40" y="111.50" width="8.40" height="8.70" fill="#878b9b"/>
<circle cx="478.00" cy="110.60" r="1.32" fill="#3a6c8e" stroke="#182c3a" stroke-width="0.55"/>
<circle cx="480.60" cy="112.00" r="1.32" fill="#3a6c8e" stroke="#182c3a" stroke-width="0.55"/>
<circle cx="483.20" cy="113.00" r="1.32" fill="#3a6c8e" stroke="#182c3a" stroke-width="0.55"/>
<rect x="489.10" y="92.40" width="8.20" height="27.80" fill="#878b9b"/>
<line x1="493.2" y1="87.0" x2="493.2" y2="96.0" stroke="#2e2e2e" stroke-width="0.9"/>
<line x1="491.09999999999997" y1="87.0" x2="495.3" y2="87.0" stroke="#2e2e2e" stroke-width="0.9"/>
<line x1="491.09999999999997" y1="96.0" x2="495.3" y2="96.0" stroke="#2e2e2e" stroke-width="0.9"/>
<circle cx="490.60" cy="91.50" r="1.32" fill="#2f7a4a" stroke="#143a20" stroke-width="0.55"/>
<circle cx="493.20" cy="93.50" r="1.32" fill="#2f7a4a" stroke="#143a20" stroke-width="0.55"/>
<circle cx="495.80" cy="95.00" r="1.32" fill="#2f7a4a" stroke="#143a20" stroke-width="0.55"/>
<path d="M405.4,111.3 L405.4,108.0 L418.7,108.0 L418.7,111.3" stroke="#2e2e2e" stroke-width="0.9" fill="none"/>
<circle cx="410.55" cy="104.80" r="0.9" fill="#262626"/>
<circle cx="413.55" cy="104.80" r="0.9" fill="#262626"/>
<path d="M405.4,106.3 L405.4,102.3 L431.0,102.3 L431.0,106.3" stroke="#2e2e2e" stroke-width="0.9" fill="none"/>
<circle cx="415.20" cy="99.10" r="0.9" fill="#262626"/>
<circle cx="418.20" cy="99.10" r="0.9" fill="#262626"/>
<circle cx="421.20" cy="99.10" r="0.9" fill="#262626"/>
<path d="M405.4,100.6 L405.4,96.5 L443.2,96.5 L443.2,100.6" stroke="#2e2e2e" stroke-width="0.9" fill="none"/>
<circle cx="421.30" cy="93.30" r="0.9" fill="#262626"/>
<circle cx="424.30" cy="93.30" r="0.9" fill="#262626"/>
<circle cx="427.30" cy="93.30" r="0.9" fill="#262626"/>
<path d="M443.3,40.5 L443.3,37.2 L493.7,37.2 L493.7,40.5" stroke="#2e2e2e" stroke-width="0.9" fill="none"/>
<circle cx="465.50" cy="34.00" r="0.9" fill="#262626"/>
<circle cx="468.50" cy="34.00" r="0.9" fill="#262626"/>
<circle cx="471.50" cy="34.00" r="0.9" fill="#262626"/>
<path d="M430.4,47.599999999999994 L430.4,44.3 L480.4,44.3 L480.4,47.599999999999994" stroke="#2e2e2e" stroke-width="0.9" fill="none"/>
<circle cx="453.90" cy="41.10" r="0.9" fill="#262626"/>
<circle cx="456.90" cy="41.10" r="0.9" fill="#262626"/>
<path d="M417.7,53.0 L417.7,49.7 L467.7,49.7 L467.7,53.0" stroke="#2e2e2e" stroke-width="0.9" fill="none"/>
<circle cx="439.70" cy="46.50" r="0.9" fill="#262626"/>
<circle cx="442.70" cy="46.50" r="0.9" fill="#262626"/>
<circle cx="445.70" cy="46.50" r="0.9" fill="#262626"/>
<path d="M455.4,58.8 L455.4,55.3 L493.7,55.3 L493.7,58.8" stroke="#2e2e2e" stroke-width="0.9" fill="none"/>
<circle cx="471.55" cy="52.10" r="0.9" fill="#262626"/>
<circle cx="474.55" cy="52.10" r="0.9" fill="#262626"/>
<circle cx="477.55" cy="52.10" r="0.9" fill="#262626"/>
<path d="M455.4,64.5 L455.4,60.7 L480.4,60.7 L480.4,64.5" stroke="#2e2e2e" stroke-width="0.9" fill="none"/>
<circle cx="464.90" cy="57.50" r="0.9" fill="#262626"/>
<circle cx="467.90" cy="57.50" r="0.9" fill="#262626"/>
<circle cx="470.90" cy="57.50" r="0.9" fill="#262626"/>
<path d="M455.4,69.3 L455.4,66.0 L468.8,66.0 L468.8,69.3" stroke="#2e2e2e" stroke-width="0.9" fill="none"/>
<circle cx="460.60" cy="62.80" r="0.9" fill="#262626"/>
<circle cx="463.60" cy="62.80" r="0.9" fill="#262626"/>
<path d="M406.2,66.5 L406.2,63.6 L455.4,63.6 L455.4,63.6" stroke="#2e2e2e" stroke-width="0.9" fill="none"/>
<circle cx="427.80" cy="60.40" r="0.9" fill="#262626"/>
<circle cx="430.80" cy="60.40" r="0.9" fill="#262626"/>
<circle cx="433.80" cy="60.40" r="0.9" fill="#262626"/>
<text x="397.3" y="132.3" font-size="6.4" text-anchor="end" font-weight="normal" font-style="normal" fill="#2a2a2a" stroke="#2a2a2a" stroke-width="0.26">AS1842856</text>
<text x="397.3" y="142.3" font-size="6.4" text-anchor="end" font-weight="normal" font-style="normal" fill="#2a2a2a" stroke="#2a2a2a" stroke-width="0.26">BMP6</text>
<text x="406.0" y="132.3" font-size="6.4" text-anchor="middle" font-weight="normal" font-style="normal" fill="#2a2a2a" stroke="#2a2a2a" stroke-width="0.26">0</text>
<text x="417.8" y="132.3" font-size="6.4" text-anchor="middle" font-weight="normal" font-style="normal" fill="#2a2a2a" stroke="#2a2a2a" stroke-width="0.26">7</text>
<text x="430.8" y="132.3" font-size="6.4" text-anchor="middle" font-weight="normal" font-style="normal" fill="#2a2a2a" stroke="#2a2a2a" stroke-width="0.26">12</text>
<text x="442.6" y="132.3" font-size="6.4" text-anchor="middle" font-weight="normal" font-style="normal" fill="#2a2a2a" stroke="#2a2a2a" stroke-width="0.26">24</text>
<text x="455.4" y="132.3" font-size="6.4" text-anchor="middle" font-weight="normal" font-style="normal" fill="#2a2a2a" stroke="#2a2a2a" stroke-width="0.26">0</text>
<text x="467.8" y="132.3" font-size="6.4" text-anchor="middle" font-weight="normal" font-style="normal" fill="#2a2a2a" stroke="#2a2a2a" stroke-width="0.26">7</text>
<text x="481.0" y="132.3" font-size="6.4" text-anchor="middle" font-weight="normal" font-style="normal" fill="#2a2a2a" stroke="#2a2a2a" stroke-width="0.26">12</text>
<text x="493.0" y="132.3" font-size="6.4" text-anchor="middle" font-weight="normal" font-style="normal" fill="#2a2a2a" stroke="#2a2a2a" stroke-width="0.26">24</text>
<text x="406.0" y="142.3" font-size="6.4" text-anchor="middle" font-weight="normal" font-style="normal" fill="#2a2a2a" stroke="#2a2a2a" stroke-width="0.26">0</text>
<text x="417.8" y="142.3" font-size="6.4" text-anchor="middle" font-weight="normal" font-style="normal" fill="#2a2a2a" stroke="#2a2a2a" stroke-width="0.26">0</text>
<text x="430.8" y="142.3" font-size="6.4" text-anchor="middle" font-weight="normal" font-style="normal" fill="#2a2a2a" stroke="#2a2a2a" stroke-width="0.26">0</text>
<text x="442.6" y="142.3" font-size="6.4" text-anchor="middle" font-weight="normal" font-style="normal" fill="#2a2a2a" stroke="#2a2a2a" stroke-width="0.26">0</text>
<text x="455.4" y="142.3" font-size="6.4" text-anchor="middle" font-weight="normal" font-style="normal" fill="#2a2a2a" stroke="#2a2a2a" stroke-width="0.26">6</text>
<text x="467.8" y="142.3" font-size="6.4" text-anchor="middle" font-weight="normal" font-style="normal" fill="#2a2a2a" stroke="#2a2a2a" stroke-width="0.26">6</text>
<text x="481.0" y="142.3" font-size="6.4" text-anchor="middle" font-weight="normal" font-style="normal" fill="#2a2a2a" stroke="#2a2a2a" stroke-width="0.26">6</text>
<text x="493.0" y="142.3" font-size="6.4" text-anchor="middle" font-weight="normal" font-style="normal" fill="#2a2a2a" stroke="#2a2a2a" stroke-width="0.26">6</text>
<text x="506.6" y="132.3" font-size="6.4" text-anchor="middle" font-weight="normal" font-style="normal" fill="#2a2a2a" stroke="#2a2a2a" stroke-width="0.26">hour</text>
<text x="506.6" y="142.3" font-size="6.4" text-anchor="middle" font-weight="normal" font-style="normal" fill="#2a2a2a" stroke="#2a2a2a" stroke-width="0.26">hour</text>
<text x="362.5" y="93.6" font-size="6.3" text-anchor="middle" font-weight="normal" font-style="italic" fill="#2a2a2a" stroke="#2a2a2a" stroke-width="0.26" transform="rotate(-90 362.5 93.6)" textLength="19.1" lengthAdjust="spacingAndGlyphs">HAMP</text>
<text x="371.0" y="93.7" font-size="6.3" text-anchor="middle" font-weight="normal" font-style="italic" fill="#2a2a2a" stroke="#2a2a2a" stroke-width="0.26" transform="rotate(-90 371.0 93.7)" textLength="41.8" lengthAdjust="spacingAndGlyphs">mRNA/β-actin</text>
<text x="7.4" y="169.0" font-size="11.4" text-anchor="start" font-weight="bold" font-style="normal" fill="#111">D</text>
<text x="106.4" y="177.7" font-size="7.0" text-anchor="middle" font-weight="normal" font-style="normal" fill="#2a2a2a" stroke="#2a2a2a" stroke-width="0.26">HepG2</text>
<line x1="67" y1="181.8" x2="145" y2="181.8" stroke="#2e2e2e" stroke-width="1.0"/>
<text x="54.8" y="190.6" font-size="6.4" text-anchor="end" font-weight="normal" font-style="normal" fill="#2a2a2a" stroke="#2a2a2a" stroke-width="0.26">AS1842856</text>
<text x="54.8" y="200.6" font-size="6.4" text-anchor="end" font-weight="normal" font-style="normal" fill="#2a2a2a" stroke="#2a2a2a" stroke-width="0.26">BMP6</text>
<text x="68.4" y="190.6" font-size="6.4" text-anchor="middle" font-weight="normal" font-style="normal" fill="#2a2a2a" stroke="#2a2a2a" stroke-width="0.26">0</text>
<text x="78.8" y="190.6" font-size="6.4" text-anchor="middle" font-weight="normal" font-style="normal" fill="#2a2a2a" stroke="#2a2a2a" stroke-width="0.26">7</text>
<text x="90.0" y="190.6" font-size="6.4" text-anchor="middle" font-weight="normal" font-style="normal" fill="#2a2a2a" stroke="#2a2a2a" stroke-width="0.26">12</text>
<text x="100.7" y="190.6" font-size="6.4" text-anchor="middle" font-weight="normal" font-style="normal" fill="#2a2a2a" stroke="#2a2a2a" stroke-width="0.26">24</text>
<text x="111.5" y="190.6" font-size="6.4" text-anchor="middle" font-weight="normal" font-style="normal" fill="#2a2a2a" stroke="#2a2a2a" stroke-width="0.26">0</text>
<text x="122.0" y="190.6" font-size="6.4" text-anchor="middle" font-weight="normal" font-style="normal" fill="#2a2a2a" stroke="#2a2a2a" stroke-width="0.26">7</text>
<text x="133.0" y="190.6" font-size="6.4" text-anchor="middle" font-weight="normal" font-style="normal" fill="#2a2a2a" stroke="#2a2a2a" stroke-width="0.26">12</text>
<text x="143.2" y="190.6" font-size="6.4" text-anchor="middle" font-weight="normal" font-style="normal" fill="#2a2a2a" stroke="#2a2a2a" stroke-width="0.26">24</text>
<text x="68.4" y="200.6" font-size="6.4" text-anchor="middle" font-weight="normal" font-style="normal" fill="#2a2a2a" stroke="#2a2a2a" stroke-width="0.26">0</text>
<text x="78.8" y="200.6" font-size="6.4" text-anchor="middle" font-weight="normal" font-style="normal" fill="#2a2a2a" stroke="#2a2a2a" stroke-width="0.26">0</text>
<text x="90.0" y="200.6" font-size="6.4" text-anchor="middle" font-weight="normal" font-style="normal" fill="#2a2a2a" stroke="#2a2a2a" stroke-width="0.26">0</text>
<text x="100.7" y="200.6" font-size="6.4" text-anchor="middle" font-weight="normal" font-style="normal" fill="#2a2a2a" stroke="#2a2a2a" stroke-width="0.26">0</text>
<text x="111.5" y="200.6" font-size="6.4" text-anchor="middle" font-weight="normal" font-style="normal" fill="#2a2a2a" stroke="#2a2a2a" stroke-width="0.26">6</text>
<text x="122.0" y="200.6" font-size="6.4" text-anchor="middle" font-weight="normal" font-style="normal" fill="#2a2a2a" stroke="#2a2a2a" stroke-width="0.26">6</text>
<text x="133.0" y="200.6" font-size="6.4" text-anchor="middle" font-weight="normal" font-style="normal" fill="#2a2a2a" stroke="#2a2a2a" stroke-width="0.26">6</text>
<text x="143.2" y="200.6" font-size="6.4" text-anchor="middle" font-weight="normal" font-style="normal" fill="#2a2a2a" stroke="#2a2a2a" stroke-width="0.26">6</text>
<text x="160.5" y="190.6" font-size="6.4" text-anchor="middle" font-weight="normal" font-style="normal" fill="#2a2a2a" stroke="#2a2a2a" stroke-width="0.26">hour</text>
<text x="160.5" y="200.6" font-size="6.4" text-anchor="middle" font-weight="normal" font-style="normal" fill="#2a2a2a" stroke="#2a2a2a" stroke-width="0.26">hour</text>
<rect x="58.2" y="205.6" width="94.2" height="12.800000000000011" fill="#ededed" stroke="#6a6a6a" stroke-width="0.75"/>
<rect x="59.1" y="206.5" width="92.4" height="11.00000000000001" fill="none" stroke="#d8d8d8" stroke-width="0.8"/>
<text x="54.8" y="214.3" font-size="6.4" text-anchor="end" font-weight="normal" font-style="normal" fill="#2a2a2a" stroke="#2a2a2a" stroke-width="0.26">Foxo1</text>
<rect x="58.2" y="222.3" width="94.2" height="12.599999999999994" fill="#ededed" stroke="#6a6a6a" stroke-width="0.75"/>
<rect x="59.1" y="223.20000000000002" width="92.4" height="10.799999999999994" fill="none" stroke="#d8d8d8" stroke-width="0.8"/>
<text x="54.8" y="230.90000000000003" font-size="6.4" text-anchor="end" font-weight="normal" font-style="normal" fill="#2a2a2a" stroke="#2a2a2a" stroke-width="0.26">Smad1</text>
<rect x="58.2" y="237.7" width="94.2" height="11.5" fill="#ededed" stroke="#6a6a6a" stroke-width="0.75"/>
<rect x="59.1" y="238.6" width="92.4" height="9.7" fill="none" stroke="#d8d8d8" stroke-width="0.8"/>
<text x="54.8" y="245.75" font-size="6.4" text-anchor="end" font-weight="normal" font-style="normal" fill="#2a2a2a" stroke="#2a2a2a" stroke-width="0.26">Smad5</text>
<rect x="58.2" y="252.2" width="94.2" height="13.100000000000023" fill="#ededed" stroke="#6a6a6a" stroke-width="0.75"/>
<rect x="59.1" y="253.1" width="92.4" height="11.300000000000022" fill="none" stroke="#d8d8d8" stroke-width="0.8"/>
<text x="54.8" y="261.05" font-size="6.4" text-anchor="end" font-weight="normal" font-style="normal" fill="#2a2a2a" stroke="#2a2a2a" stroke-width="0.26">Smad4</text>
<rect x="58.2" y="268.2" width="94.2" height="12.0" fill="#ededed" stroke="#6a6a6a" stroke-width="0.75"/>
<rect x="59.1" y="269.09999999999997" width="92.4" height="10.2" fill="none" stroke="#d8d8d8" stroke-width="0.8"/>
<text x="54.8" y="276.5" font-size="6.4" text-anchor="end" font-weight="normal" font-style="normal" fill="#2a2a2a" stroke="#2a2a2a" stroke-width="0.26">pSmad1/5/8</text>
<rect x="58.2" y="283.6" width="94.2" height="12.599999999999966" fill="#ededed" stroke="#6a6a6a" stroke-width="0.75"/>
<rect x="59.1" y="284.5" width="92.4" height="10.799999999999965" fill="none" stroke="#d8d8d8" stroke-width="0.8"/>
<text x="54.8" y="292.2" font-size="6.4" text-anchor="end" font-weight="normal" font-style="normal" fill="#2a2a2a" stroke="#2a2a2a" stroke-width="0.26">β-actin</text>
<rect x="61.10" y="210.00" width="9.40" height="4.00" rx="2.00" fill="#111" fill-opacity="1.00" filter="url(#b1)"/>
<rect x="72.20" y="210.00" width="9.40" height="4.00" rx="2.00" fill="#111" fill-opacity="0.62" filter="url(#b1)"/>
<rect x="83.30" y="210.00" width="9.40" height="4.00" rx="2.00" fill="#111" fill-opacity="0.32" filter="url(#b1)"/>
<rect x="94.40" y="210.00" width="9.40" height="4.00" rx="2.00" fill="#111" fill-opacity="0.22" filter="url(#b1)"/>
<rect x="105.60" y="210.00" width="9.40" height="4.00" rx="2.00" fill="#111" fill-opacity="1.00" filter="url(#b1)"/>
<rect x="116.90" y="210.00" width="9.40" height="4.00" rx="2.00" fill="#111" fill-opacity="0.50" filter="url(#b1)"/>
<rect x="128.50" y="210.00" width="9.40" height="4.00" rx="2.00" fill="#111" fill-opacity="0.45" filter="url(#b1)"/>
<rect x="140.10" y="210.00" width="9.40" height="4.00" rx="2.00" fill="#111" fill-opacity="0.20" filter="url(#b1)"/>
<rect x="61.10" y="226.80" width="9.40" height="3.60" rx="1.80" fill="#111" fill-opacity="1.00" filter="url(#b1)"/>
<rect x="72.20" y="226.80" width="9.40" height="3.60" rx="1.80" fill="#111" fill-opacity="0.95" filter="url(#b1)"/>
<rect x="83.30" y="226.80" width="9.40" height="3.60" rx="1.80" fill="#111" fill-opacity="0.45" filter="url(#b1)"/>
<rect x="94.40" y="226.80" width="9.40" height="3.60" rx="1.80" fill="#111" fill-opacity="0.40" filter="url(#b1)"/>
<rect x="105.60" y="226.80" width="9.40" height="3.60" rx="1.80" fill="#111" fill-opacity="1.00" filter="url(#b1)"/>
<rect x="116.90" y="226.80" width="9.40" height="3.60" rx="1.80" fill="#111" fill-opacity="0.60" filter="url(#b1)"/>
<rect x="128.50" y="226.80" width="9.40" height="3.60" rx="1.80" fill="#111" fill-opacity="0.30" filter="url(#b1)"/>
<rect x="140.10" y="226.80" width="9.40" height="3.60" rx="1.80" fill="#111" fill-opacity="0.35" filter="url(#b1)"/>
<rect x="61.10" y="240.10" width="9.40" height="5.00" rx="2.50" fill="#111" fill-opacity="0.70" filter="url(#b1)"/>
<rect x="72.20" y="240.10" width="9.40" height="5.00" rx="2.50" fill="#111" fill-opacity="0.40" filter="url(#b1)"/>
<rect x="83.30" y="240.10" width="9.40" height="5.00" rx="2.50" fill="#111" fill-opacity="0.25" filter="url(#b1)"/>
<rect x="94.40" y="240.10" width="9.40" height="5.00" rx="2.50" fill="#111" fill-opacity="0.25" filter="url(#b1)"/>
<rect x="105.60" y="240.50" width="9.40" height="4.20" rx="2.10" fill="#111" fill-opacity="1.00" filter="url(#b1)"/>
<rect x="116.90" y="240.10" width="9.40" height="5.00" rx="2.50" fill="#111" fill-opacity="0.42" filter="url(#b1)"/>
<rect x="128.50" y="240.10" width="9.40" height="5.00" rx="2.50" fill="#111" fill-opacity="0.10" filter="url(#b1)"/>
<rect x="140.10" y="240.10" width="9.40" height="5.00" rx="2.50" fill="#111" fill-opacity="0.25" filter="url(#b1)"/>
<rect x="61.00" y="256.05" width="9.60" height="3.90" rx="1.95" fill="#111" fill-opacity="1.00" filter="url(#b1)"/>
<rect x="72.10" y="256.05" width="9.60" height="3.90" rx="1.95" fill="#111" fill-opacity="1.00" filter="url(#b1)"/>
<rect x="83.20" y="256.05" width="9.60" height="3.90" rx="1.95" fill="#111" fill-opacity="1.00" filter="url(#b1)"/>
<rect x="94.30" y="256.55" width="9.60" height="3.90" rx="1.95" fill="#111" fill-opacity="0.90" filter="url(#b1)"/>
<rect x="105.50" y="256.25" width="9.60" height="3.90" rx="1.95" fill="#111" fill-opacity="1.00" filter="url(#b1)"/>
<rect x="116.80" y="256.45" width="9.60" height="3.90" rx="1.95" fill="#111" fill-opacity="0.95" filter="url(#b1)"/>
<rect x="128.40" y="257.05" width="9.60" height="3.90" rx="1.95" fill="#111" fill-opacity="0.95" filter="url(#b1)"/>
<rect x="140.00" y="257.85" width="9.60" height="3.90" rx="1.95" fill="#111" fill-opacity="0.90" filter="url(#b1)"/>
<rect x="94.60" y="260.60" width="9.00" height="2.00" rx="1.00" fill="#111" fill-opacity="0.35" filter="url(#b1)"/>
<rect x="61.20" y="270.45" width="9.20" height="5.50" rx="2.50" fill="#111" fill-opacity="0.60" filter="url(#b1)"/>
<rect x="72.30" y="270.70" width="9.20" height="5.00" rx="2.50" fill="#111" fill-opacity="0.15" filter="url(#b1)"/>
<rect x="83.40" y="270.70" width="9.20" height="5.00" rx="2.50" fill="#111" fill-opacity="0.05" filter="url(#b1)"/>
<rect x="94.50" y="270.70" width="9.20" height="5.00" rx="2.50" fill="#111" fill-opacity="0.05" filter="url(#b1)"/>
<rect x="105.70" y="270.20" width="9.20" height="6.00" rx="2.50" fill="#111" fill-opacity="1.00" filter="url(#b1)"/>
<rect x="117.00" y="270.70" width="9.20" height="5.00" rx="2.50" fill="#111" fill-opacity="0.12" filter="url(#b1)"/>
<rect x="128.60" y="270.70" width="9.20" height="5.00" rx="2.50" fill="#111" fill-opacity="0.15" filter="url(#b1)"/>
<rect x="140.20" y="270.20" width="9.20" height="6.00" rx="2.50" fill="#111" fill-opacity="0.60" filter="url(#b1)"/>
<rect x="60.90" y="288.20" width="9.80" height="3.60" rx="1.80" fill="#111" fill-opacity="1.00" filter="url(#b1)"/>
<rect x="72.00" y="288.20" width="9.80" height="3.60" rx="1.80" fill="#111" fill-opacity="1.00" filter="url(#b1)"/>
<rect x="83.10" y="288.20" width="9.80" height="3.60" rx="1.80" fill="#111" fill-opacity="1.00" filter="url(#b1)"/>
<rect x="94.20" y="288.20" width="9.80" height="3.60" rx="1.80" fill="#111" fill-opacity="1.00" filter="url(#b1)"/>
<rect x="105.40" y="288.20" width="9.80" height="3.60" rx="1.80" fill="#111" fill-opacity="1.00" filter="url(#b1)"/>
<rect x="116.70" y="288.20" width="9.80" height="3.60" rx="1.80" fill="#111" fill-opacity="1.00" filter="url(#b1)"/>
<rect x="128.30" y="288.20" width="9.80" height="3.60" rx="1.80" fill="#111" fill-opacity="1.00" filter="url(#b1)"/>
<rect x="139.90" y="288.20" width="9.80" height="3.60" rx="1.80" fill="#111" fill-opacity="1.00" filter="url(#b1)"/>
<line x1="213.6" y1="209.70000000000002" x2="213.6" y2="269.5" stroke="#2e2e2e" stroke-width="1.4"/>
<line x1="210.4" y1="269.5" x2="213.6" y2="269.5" stroke="#2e2e2e" stroke-width="1.1"/>
<text x="207.8" y="272.0" font-size="6.4" text-anchor="end" font-weight="normal" font-style="normal" fill="#2a2a2a" stroke="#2a2a2a" stroke-width="0.26">0.0</text>
<line x1="210.4" y1="254.95" x2="213.6" y2="254.95" stroke="#2e2e2e" stroke-width="1.1"/>
<text x="207.8" y="257.45" font-size="6.4" text-anchor="end" font-weight="normal" font-style="normal" fill="#2a2a2a" stroke="#2a2a2a" stroke-width="0.26">0.5</text>
<line x1="210.4" y1="240.4" x2="213.6" y2="240.4" stroke="#2e2e2e" stroke-width="1.1"/>
<text x="207.8" y="242.9" font-size="6.4" text-anchor="end" font-weight="normal" font-style="normal" fill="#2a2a2a" stroke="#2a2a2a" stroke-width="0.26">1.0</text>
<line x1="210.4" y1="225.85000000000002" x2="213.6" y2="225.85000000000002" stroke="#2e2e2e" stroke-width="1.1"/>
<text x="207.8" y="228.35000000000002" font-size="6.4" text-anchor="end" font-weight="normal" font-style="normal" fill="#2a2a2a" stroke="#2a2a2a" stroke-width="0.26">1.5</text>
<line x1="210.4" y1="211.3" x2="213.6" y2="211.3" stroke="#2e2e2e" stroke-width="1.1"/>
<text x="207.8" y="213.8" font-size="6.4" text-anchor="end" font-weight="normal" font-style="normal" fill="#2a2a2a" stroke="#2a2a2a" stroke-width="0.26">2.0</text>
<line x1="213.6" y1="269.5" x2="343.6" y2="269.5" stroke="#2e2e2e" stroke-width="1.4"/>
<line x1="223.6" y1="269.5" x2="223.6" y2="272.5" stroke="#2e2e2e" stroke-width="1.1"/>
<line x1="239.3" y1="269.5" x2="239.3" y2="272.5" stroke="#2e2e2e" stroke-width="1.1"/>
<line x1="254.8" y1="269.5" x2="254.8" y2="272.5" stroke="#2e2e2e" stroke-width="1.1"/>
<line x1="270.2" y1="269.5" x2="270.2" y2="272.5" stroke="#2e2e2e" stroke-width="1.1"/>
<line x1="286.0" y1="269.5" x2="286.0" y2="272.5" stroke="#2e2e2e" stroke-width="1.1"/>
<line x1="301.6" y1="269.5" x2="301.6" y2="272.5" stroke="#2e2e2e" stroke-width="1.1"/>
<line x1="317.2" y1="269.5" x2="317.2" y2="272.5" stroke="#2e2e2e" stroke-width="1.1"/>
<line x1="333.0" y1="269.5" x2="333.0" y2="272.5" stroke="#2e2e2e" stroke-width="1.1"/>
<rect x="218.40" y="240.60" width="10.40" height="28.90" fill="#c2c4cb"/>
<rect x="234.10" y="255.70" width="10.40" height="13.80" fill="#c2c4cb"/>
<rect x="249.60" y="264.80" width="10.40" height="4.70" fill="#c2c4cb"/>
<rect x="265.00" y="267.80" width="10.40" height="1.70" fill="#c2c4cb"/>
<rect x="280.80" y="222.80" width="10.40" height="46.70" fill="#878b9b"/>
<rect x="296.40" y="261.60" width="10.40" height="7.90" fill="#878b9b"/>
<rect x="312.00" y="260.60" width="10.40" height="8.90" fill="#878b9b"/>
<rect x="327.80" y="248.70" width="10.40" height="20.80" fill="#878b9b"/>
<line x1="223.6" y1="236.5" x2="223.6" y2="245.8" stroke="#2e2e2e" stroke-width="0.9"/>
<line x1="221.5" y1="236.5" x2="225.7" y2="236.5" stroke="#2e2e2e" stroke-width="0.9"/>
<line x1="221.5" y1="245.8" x2="225.7" y2="245.8" stroke="#2e2e2e" stroke-width="0.9"/>
<circle cx="220.20" cy="237.60" r="1.32" fill="#a02e64" stroke="#551236" stroke-width="0.55"/>
<circle cx="223.60" cy="238.40" r="1.32" fill="#a02e64" stroke="#551236" stroke-width="0.55"/>
<circle cx="227.00" cy="238.00" r="1.32" fill="#a02e64" stroke="#551236" stroke-width="0.55"/>
<line x1="239.3" y1="253.5" x2="239.3" y2="258" stroke="#2e2e2e" stroke-width="0.9"/>
<line x1="237.20000000000002" y1="253.5" x2="241.4" y2="253.5" stroke="#2e2e2e" stroke-width="0.9"/>
<line x1="237.20000000000002" y1="258" x2="241.4" y2="258" stroke="#2e2e2e" stroke-width="0.9"/>
<circle cx="236.10" cy="254.50" r="1.32" fill="#cc9656" stroke="#654520" stroke-width="0.55"/>
<circle cx="239.30" cy="256.50" r="1.32" fill="#cc9656" stroke="#654520" stroke-width="0.55"/>
<circle cx="242.50" cy="257.20" r="1.32" fill="#cc9656" stroke="#654520" stroke-width="0.55"/>
<line x1="254.8" y1="263.0" x2="254.8" y2="266.2" stroke="#2e2e2e" stroke-width="0.9"/>
<line x1="252.70000000000002" y1="263.0" x2="256.90000000000003" y2="263.0" stroke="#2e2e2e" stroke-width="0.9"/>
<line x1="252.70000000000002" y1="266.2" x2="256.90000000000003" y2="266.2" stroke="#2e2e2e" stroke-width="0.9"/>
<circle cx="251.60" cy="263.80" r="1.32" fill="#3a6c8e" stroke="#182c3a" stroke-width="0.55"/>
<circle cx="254.80" cy="265.00" r="1.32" fill="#3a6c8e" stroke="#182c3a" stroke-width="0.55"/>
<circle cx="258.00" cy="265.40" r="1.32" fill="#3a6c8e" stroke="#182c3a" stroke-width="0.55"/>
<line x1="270.2" y1="266.5" x2="270.2" y2="268.8" stroke="#2e2e2e" stroke-width="0.9"/>
<line x1="268.09999999999997" y1="266.5" x2="272.3" y2="266.5" stroke="#2e2e2e" stroke-width="0.9"/>
<line x1="268.09999999999997" y1="268.8" x2="272.3" y2="268.8" stroke="#2e2e2e" stroke-width="0.9"/>
<circle cx="267.00" cy="267.50" r="1.32" fill="#2f7a4a" stroke="#143a20" stroke-width="0.55"/>
<circle cx="270.20" cy="267.80" r="1.32" fill="#2f7a4a" stroke="#143a20" stroke-width="0.55"/>
<circle cx="273.40" cy="268.20" r="1.32" fill="#2f7a4a" stroke="#143a20" stroke-width="0.55"/>
<line x1="286.0" y1="218.8" x2="286.0" y2="227.5" stroke="#2e2e2e" stroke-width="0.9"/>
<line x1="283.9" y1="218.8" x2="288.1" y2="218.8" stroke="#2e2e2e" stroke-width="0.9"/>
<line x1="283.9" y1="227.5" x2="288.1" y2="227.5" stroke="#2e2e2e" stroke-width="0.9"/>
<circle cx="282.80" cy="220.50" r="1.32" fill="#a02e64" stroke="#551236" stroke-width="0.55"/>
<circle cx="286.00" cy="221.00" r="1.32" fill="#a02e64" stroke="#551236" stroke-width="0.55"/>
<circle cx="289.20" cy="224.50" r="1.32" fill="#a02e64" stroke="#551236" stroke-width="0.55"/>
<line x1="301.6" y1="260.0" x2="301.6" y2="262.8" stroke="#2e2e2e" stroke-width="0.9"/>
<line x1="299.5" y1="260.0" x2="303.70000000000005" y2="260.0" stroke="#2e2e2e" stroke-width="0.9"/>
<line x1="299.5" y1="262.8" x2="303.70000000000005" y2="262.8" stroke="#2e2e2e" stroke-width="0.9"/>
<circle cx="298.40" cy="261.00" r="1.32" fill="#cc9656" stroke="#654520" stroke-width="0.55"/>
<circle cx="301.60" cy="261.60" r="1.32" fill="#cc9656" stroke="#654520" stroke-width="0.55"/>
<circle cx="304.80" cy="262.20" r="1.32" fill="#cc9656" stroke="#654520" stroke-width="0.55"/>
<line x1="317.2" y1="258.3" x2="317.2" y2="262.5" stroke="#2e2e2e" stroke-width="0.9"/>
<line x1="315.09999999999997" y1="258.3" x2="319.3" y2="258.3" stroke="#2e2e2e" stroke-width="0.9"/>
<line x1="315.09999999999997" y1="262.5" x2="319.3" y2="262.5" stroke="#2e2e2e" stroke-width="0.9"/>
<circle cx="314.00" cy="259.50" r="1.32" fill="#3a6c8e" stroke="#182c3a" stroke-width="0.55"/>
<circle cx="317.20" cy="261.20" r="1.32" fill="#3a6c8e" stroke="#182c3a" stroke-width="0.55"/>
<circle cx="320.40" cy="262.00" r="1.32" fill="#3a6c8e" stroke="#182c3a" stroke-width="0.55"/>
<line x1="333.0" y1="244.5" x2="333.0" y2="253.0" stroke="#2e2e2e" stroke-width="0.9"/>
<line x1="330.9" y1="244.5" x2="335.1" y2="244.5" stroke="#2e2e2e" stroke-width="0.9"/>
<line x1="330.9" y1="253.0" x2="335.1" y2="253.0" stroke="#2e2e2e" stroke-width="0.9"/>
<circle cx="329.80" cy="246.50" r="1.32" fill="#2f7a4a" stroke="#143a20" stroke-width="0.55"/>
<circle cx="333.00" cy="248.50" r="1.32" fill="#2f7a4a" stroke="#143a20" stroke-width="0.55"/>
<circle cx="336.20" cy="250.50" r="1.32" fill="#2f7a4a" stroke="#143a20" stroke-width="0.55"/>
<path d="M223.5,231.7 L223.5,227.5 L239.2,227.5 L239.2,232.0" stroke="#2e2e2e" stroke-width="0.9" fill="none"/>
<circle cx="229.85" cy="224.30" r="0.9" fill="#262626"/>
<circle cx="232.85" cy="224.30" r="0.9" fill="#262626"/>
<path d="M223.5,223.3 L223.5,218.8 L253.8,218.8 L253.8,224.0" stroke="#2e2e2e" stroke-width="0.9" fill="none"/>
<circle cx="235.65" cy="215.60" r="0.9" fill="#262626"/>
<circle cx="238.65" cy="215.60" r="0.9" fill="#262626"/>
<circle cx="241.65" cy="215.60" r="0.9" fill="#262626"/>
<path d="M223.5,214.8 L223.5,210.3 L269.3,210.3 L269.3,215.3" stroke="#2e2e2e" stroke-width="0.9" fill="none"/>
<circle cx="243.40" cy="207.10" r="0.9" fill="#262626"/>
<circle cx="246.40" cy="207.10" r="0.9" fill="#262626"/>
<circle cx="249.40" cy="207.10" r="0.9" fill="#262626"/>
<path d="M223.5,196.7 L223.5,193.7 L286.2,193.7 L286.2,197.2" stroke="#2e2e2e" stroke-width="0.9" fill="none"/>
<circle cx="251.85" cy="190.50" r="0.9" fill="#262626"/>
<circle cx="254.85" cy="190.50" r="0.9" fill="#262626"/>
<circle cx="257.85" cy="190.50" r="0.9" fill="#262626"/>
<path d="M270.6,191.0 L270.6,187.6 L333.7,187.6 L333.7,191.0" stroke="#2e2e2e" stroke-width="0.9" fill="none"/>
<circle cx="299.15" cy="184.40" r="0.9" fill="#262626"/>
<circle cx="302.15" cy="184.40" r="0.9" fill="#262626"/>
<circle cx="305.15" cy="184.40" r="0.9" fill="#262626"/>
<path d="M286.2,200.3 L286.2,200.3 L331.7,200.3 L331.7,204.9" stroke="#2e2e2e" stroke-width="0.9" fill="none"/>
<circle cx="307.45" cy="197.10" r="0.9" fill="#262626"/>
<circle cx="310.45" cy="197.10" r="0.9" fill="#262626"/>
<path d="M286.2,205.9 L286.2,205.9 L316.8,205.9 L316.8,210.9" stroke="#2e2e2e" stroke-width="0.9" fill="none"/>
<circle cx="298.50" cy="202.70" r="0.9" fill="#262626"/>
<circle cx="301.50" cy="202.70" r="0.9" fill="#262626"/>
<circle cx="304.50" cy="202.70" r="0.9" fill="#262626"/>
<path d="M286.2,212.5 L286.2,212.5 L301.8,212.5 L301.8,216.8" stroke="#2e2e2e" stroke-width="0.9" fill="none"/>
<circle cx="291.00" cy="209.30" r="0.9" fill="#262626"/>
<circle cx="294.00" cy="209.30" r="0.9" fill="#262626"/>
<circle cx="297.00" cy="209.30" r="0.9" fill="#262626"/>
<line x1="286.2" y1="193.7" x2="286.2" y2="218.8" stroke="#2e2e2e" stroke-width="0.9"/>
<text x="215.5" y="281.4" font-size="6.4" text-anchor="end" font-weight="normal" font-style="normal" fill="#2a2a2a" stroke="#2a2a2a" stroke-width="0.26">AS1842856</text>
<text x="215.5" y="291.4" font-size="6.4" text-anchor="end" font-weight="normal" font-style="normal" fill="#2a2a2a" stroke="#2a2a2a" stroke-width="0.26">BMP6</text>
<text x="223.6" y="281.4" font-size="6.4" text-anchor="middle" font-weight="normal" font-style="normal" fill="#2a2a2a" stroke="#2a2a2a" stroke-width="0.26">0</text>
<text x="239.3" y="281.4" font-size="6.4" text-anchor="middle" font-weight="normal" font-style="normal" fill="#2a2a2a" stroke="#2a2a2a" stroke-width="0.26">7</text>
<text x="254.8" y="281.4" font-size="6.4" text-anchor="middle" font-weight="normal" font-style="normal" fill="#2a2a2a" stroke="#2a2a2a" stroke-width="0.26">12</text>
<text x="270.2" y="281.4" font-size="6.4" text-anchor="middle" font-weight="normal" font-style="normal" fill="#2a2a2a" stroke="#2a2a2a" stroke-width="0.26">24</text>
<text x="286.0" y="281.4" font-size="6.4" text-anchor="middle" font-weight="normal" font-style="normal" fill="#2a2a2a" stroke="#2a2a2a" stroke-width="0.26">0</text>
<text x="301.6" y="281.4" font-size="6.4" text-anchor="middle" font-weight="normal" font-style="normal" fill="#2a2a2a" stroke="#2a2a2a" stroke-width="0.26">7</text>
<text x="317.2" y="281.4" font-size="6.4" text-anchor="middle" font-weight="normal" font-style="normal" fill="#2a2a2a" stroke="#2a2a2a" stroke-width="0.26">12</text>
<text x="333.0" y="281.4" font-size="6.4" text-anchor="middle" font-weight="normal" font-style="normal" fill="#2a2a2a" stroke="#2a2a2a" stroke-width="0.26">24</text>
<text x="223.6" y="291.4" font-size="6.4" text-anchor="middle" font-weight="normal" font-style="normal" fill="#2a2a2a" stroke="#2a2a2a" stroke-width="0.26">0</text>
<text x="239.3" y="291.4" font-size="6.4" text-anchor="middle" font-weight="normal" font-style="normal" fill="#2a2a2a" stroke="#2a2a2a" stroke-width="0.26">0</text>
<text x="254.8" y="291.4" font-size="6.4" text-anchor="middle" font-weight="normal" font-style="normal" fill="#2a2a2a" stroke="#2a2a2a" stroke-width="0.26">0</text>
<text x="270.2" y="291.4" font-size="6.4" text-anchor="middle" font-weight="normal" font-style="normal" fill="#2a2a2a" stroke="#2a2a2a" stroke-width="0.26">0</text>
<text x="286.0" y="291.4" font-size="6.4" text-anchor="middle" font-weight="normal" font-style="normal" fill="#2a2a2a" stroke="#2a2a2a" stroke-width="0.26">6</text>
<text x="301.6" y="291.4" font-size="6.4" text-anchor="middle" font-weight="normal" font-style="normal" fill="#2a2a2a" stroke="#2a2a2a" stroke-width="0.26">6</text>
<text x="317.2" y="291.4" font-size="6.4" text-anchor="middle" font-weight="normal" font-style="normal" fill="#2a2a2a" stroke="#2a2a2a" stroke-width="0.26">6</text>
<text x="333.0" y="291.4" font-size="6.4" text-anchor="middle" font-weight="normal" font-style="normal" fill="#2a2a2a" stroke="#2a2a2a" stroke-width="0.26">6</text>
<text x="346.6" y="281.4" font-size="6.4" text-anchor="middle" font-weight="normal" font-style="normal" fill="#2a2a2a" stroke="#2a2a2a" stroke-width="0.26">hour</text>
<text x="346.6" y="291.4" font-size="6.4" text-anchor="middle" font-weight="normal" font-style="normal" fill="#2a2a2a" stroke="#2a2a2a" stroke-width="0.26">hour</text>
<text x="193.5" y="237.7" font-size="7.0" text-anchor="middle" font-weight="normal" font-style="normal" fill="#2a2a2a" stroke="#2a2a2a" stroke-width="0.26" transform="rotate(-90 193.5 237.7)" textLength="58.2" lengthAdjust="spacingAndGlyphs">pSmad level/β-actin</text>
<text x="368.1" y="168.4" font-size="11.4" text-anchor="start" font-weight="bold" font-style="normal" fill="#111">E</text>
<line x1="410.6" y1="197.9" x2="410.6" y2="269.7" stroke="#2e2e2e" stroke-width="1.4"/>
<line x1="407.40000000000003" y1="269.7" x2="410.6" y2="269.7" stroke="#2e2e2e" stroke-width="1.1"/>
<text x="404.8" y="272.2" font-size="6.4" text-anchor="end" font-weight="normal" font-style="normal" fill="#2a2a2a" stroke="#2a2a2a" stroke-width="0.26">0.00</text>
<line x1="407.40000000000003" y1="252.14999999999998" x2="410.6" y2="252.14999999999998" stroke="#2e2e2e" stroke-width="1.1"/>
<text x="404.8" y="254.64999999999998" font-size="6.4" text-anchor="end" font-weight="normal" font-style="normal" fill="#2a2a2a" stroke="#2a2a2a" stroke-width="0.26">0.01</text>
<line x1="407.40000000000003" y1="234.6" x2="410.6" y2="234.6" stroke="#2e2e2e" stroke-width="1.1"/>
<text x="404.8" y="237.1" font-size="6.4" text-anchor="end" font-weight="normal" font-style="normal" fill="#2a2a2a" stroke="#2a2a2a" stroke-width="0.26">0.02</text>
<line x1="407.40000000000003" y1="217.05" x2="410.6" y2="217.05" stroke="#2e2e2e" stroke-width="1.1"/>
<text x="404.8" y="219.55" font-size="6.4" text-anchor="end" font-weight="normal" font-style="normal" fill="#2a2a2a" stroke="#2a2a2a" stroke-width="0.26">0.03</text>
<line x1="407.40000000000003" y1="199.5" x2="410.6" y2="199.5" stroke="#2e2e2e" stroke-width="1.1"/>
<text x="404.8" y="202.0" font-size="6.4" text-anchor="end" font-weight="normal" font-style="normal" fill="#2a2a2a" stroke="#2a2a2a" stroke-width="0.26">0.04</text>
<line x1="410.6" y1="269.7" x2="487.7" y2="269.7" stroke="#2e2e2e" stroke-width="1.4"/>
<line x1="424.2" y1="269.7" x2="424.2" y2="272.7" stroke="#2e2e2e" stroke-width="1.1"/>
<line x1="441.3" y1="269.7" x2="441.3" y2="272.7" stroke="#2e2e2e" stroke-width="1.1"/>
<line x1="458.0" y1="269.7" x2="458.0" y2="272.7" stroke="#2e2e2e" stroke-width="1.1"/>
<line x1="475.0" y1="269.7" x2="475.0" y2="272.7" stroke="#2e2e2e" stroke-width="1.1"/>
<rect x="418.90" y="253.00" width="10.60" height="16.70" fill="#c2c4cb"/>
<rect x="436.00" y="261.20" width="10.60" height="8.50" fill="#c2c4cb"/>
<rect x="452.70" y="209.20" width="10.60" height="60.50" fill="#c2c4cb"/>
<rect x="469.70" y="241.50" width="10.60" height="28.20" fill="#c2c4cb"/>
<line x1="424.2" y1="249.5" x2="424.2" y2="255.5" stroke="#2e2e2e" stroke-width="0.9"/>
<line x1="422.09999999999997" y1="249.5" x2="426.3" y2="249.5" stroke="#2e2e2e" stroke-width="0.9"/>
<line x1="422.09999999999997" y1="255.5" x2="426.3" y2="255.5" stroke="#2e2e2e" stroke-width="0.9"/>
<circle cx="420.20" cy="250.50" r="1.32" fill="#a02e64" stroke="#551236" stroke-width="0.55"/>
<circle cx="424.20" cy="253.00" r="1.32" fill="#a02e64" stroke="#551236" stroke-width="0.55"/>
<circle cx="428.20" cy="252.00" r="1.32" fill="#a02e64" stroke="#551236" stroke-width="0.55"/>
<line x1="441.3" y1="259.5" x2="441.3" y2="262.2" stroke="#2e2e2e" stroke-width="0.9"/>
<line x1="439.2" y1="259.5" x2="443.40000000000003" y2="259.5" stroke="#2e2e2e" stroke-width="0.9"/>
<line x1="439.2" y1="262.2" x2="443.40000000000003" y2="262.2" stroke="#2e2e2e" stroke-width="0.9"/>
<circle cx="437.70" cy="260.00" r="1.32" fill="#cc9656" stroke="#654520" stroke-width="0.55"/>
<circle cx="441.30" cy="261.50" r="1.32" fill="#cc9656" stroke="#654520" stroke-width="0.55"/>
<circle cx="444.90" cy="260.80" r="1.32" fill="#cc9656" stroke="#654520" stroke-width="0.55"/>
<line x1="458.0" y1="205.5" x2="458.0" y2="213.5" stroke="#2e2e2e" stroke-width="0.9"/>
<line x1="455.9" y1="205.5" x2="460.1" y2="205.5" stroke="#2e2e2e" stroke-width="0.9"/>
<line x1="455.9" y1="213.5" x2="460.1" y2="213.5" stroke="#2e2e2e" stroke-width="0.9"/>
<circle cx="454.00" cy="206.00" r="1.32" fill="#3a6c8e" stroke="#182c3a" stroke-width="0.55"/>
<circle cx="458.00" cy="210.50" r="1.32" fill="#3a6c8e" stroke="#182c3a" stroke-width="0.55"/>
<circle cx="462.00" cy="206.80" r="1.32" fill="#3a6c8e" stroke="#182c3a" stroke-width="0.55"/>
<line x1="475.0" y1="236.0" x2="475.0" y2="245.5" stroke="#2e2e2e" stroke-width="0.9"/>
<line x1="472.9" y1="236.0" x2="477.1" y2="236.0" stroke="#2e2e2e" stroke-width="0.9"/>
<line x1="472.9" y1="245.5" x2="477.1" y2="245.5" stroke="#2e2e2e" stroke-width="0.9"/>
<circle cx="471.00" cy="238.50" r="1.32" fill="#2f7a4a" stroke="#143a20" stroke-width="0.55"/>
<circle cx="475.00" cy="243.00" r="1.32" fill="#2f7a4a" stroke="#143a20" stroke-width="0.55"/>
<circle cx="479.00" cy="238.00" r="1.32" fill="#2f7a4a" stroke="#143a20" stroke-width="0.55"/>
<path d="M424.2,248.5 L424.2,243.9 L441.0,243.9 L441.0,248.5" stroke="#2e2e2e" stroke-width="0.9" fill="none"/>
<circle cx="432.60" cy="240.70" r="0.9" fill="#262626"/>
<path d="M424.2,198.8 L424.2,193.0 L457.7,193.0 L457.7,204.0" stroke="#2e2e2e" stroke-width="0.9" fill="none"/>
<circle cx="437.95" cy="189.80" r="0.9" fill="#262626"/>
<circle cx="440.95" cy="189.80" r="0.9" fill="#262626"/>
<circle cx="443.95" cy="189.80" r="0.9" fill="#262626"/>
<path d="M457.7,198.2 L457.7,198.2 L475.7,198.2 L475.7,203.5" stroke="#2e2e2e" stroke-width="0.9" fill="none"/>
<circle cx="463.70" cy="195.00" r="0.9" fill="#262626"/>
<circle cx="466.70" cy="195.00" r="0.9" fill="#262626"/>
<circle cx="469.70" cy="195.00" r="0.9" fill="#262626"/>
<path d="M440.4,186.6 L440.4,181.0 L475.7,181.0 L475.7,186.6" stroke="#2e2e2e" stroke-width="0.9" fill="none"/>
<circle cx="456.55" cy="177.80" r="0.9" fill="#262626"/>
<circle cx="459.55" cy="177.80" r="0.9" fill="#262626"/>
<text x="416.4" y="281.9" font-size="6.4" text-anchor="end" font-weight="normal" font-style="normal" fill="#2a2a2a" stroke="#2a2a2a" stroke-width="0.26">AS1842856</text>
<text x="416.1" y="291.8" font-size="6.4" text-anchor="end" font-weight="normal" font-style="normal" fill="#2a2a2a" stroke="#2a2a2a" stroke-width="0.26">Holo-Tf</text>
<line x1="422.45" y1="279.84999999999997" x2="425.95" y2="279.84999999999997" stroke="#4a4a4a" stroke-width="1.05"/>
<line x1="439.6" y1="279.79999999999995" x2="443.0" y2="279.79999999999995" stroke="#333" stroke-width="0.95"/>
<line x1="441.3" y1="278.04999999999995" x2="441.3" y2="281.54999999999995" stroke="#333" stroke-width="0.95"/>
<line x1="456.25" y1="279.84999999999997" x2="459.75" y2="279.84999999999997" stroke="#4a4a4a" stroke-width="1.05"/>
<line x1="473.3" y1="279.79999999999995" x2="476.7" y2="279.79999999999995" stroke="#333" stroke-width="0.95"/>
<line x1="475.0" y1="278.04999999999995" x2="475.0" y2="281.54999999999995" stroke="#333" stroke-width="0.95"/>
<line x1="422.45" y1="289.75" x2="425.95" y2="289.75" stroke="#4a4a4a" stroke-width="1.05"/>
<line x1="439.55" y1="289.75" x2="443.05" y2="289.75" stroke="#4a4a4a" stroke-width="1.05"/>
<line x1="456.3" y1="289.7" x2="459.7" y2="289.7" stroke="#333" stroke-width="0.95"/>
<line x1="458.0" y1="287.95" x2="458.0" y2="291.45" stroke="#333" stroke-width="0.95"/>
<line x1="473.3" y1="289.7" x2="476.7" y2="289.7" stroke="#333" stroke-width="0.95"/>
<line x1="475.0" y1="287.95" x2="475.0" y2="291.45" stroke="#333" stroke-width="0.95"/>
<text x="385.3" y="230.1" font-size="7.2" text-anchor="middle" font-weight="normal" font-style="italic" fill="#2a2a2a" stroke="#2a2a2a" stroke-width="0.26" transform="rotate(-90 385.3 230.1)" textLength="60.6" lengthAdjust="spacingAndGlyphs">Hamp1 mRNA/β-actin</text>
<text x="7.1" y="322.4" font-size="11.4" text-anchor="start" font-weight="bold" font-style="normal" fill="#111">F</text>
<line x1="51.8" y1="361.0" x2="51.8" y2="423.2" stroke="#2e2e2e" stroke-width="1.4"/>
<line x1="48.599999999999994" y1="423.2" x2="51.8" y2="423.2" stroke="#2e2e2e" stroke-width="1.1"/>
<text x="45.99999999999999" y="425.7" font-size="6.4" text-anchor="end" font-weight="normal" font-style="normal" fill="#2a2a2a" stroke="#2a2a2a" stroke-width="0.26">0.00</text>
<line x1="48.599999999999994" y1="408.05" x2="51.8" y2="408.05" stroke="#2e2e2e" stroke-width="1.1"/>
<text x="45.99999999999999" y="410.55" font-size="6.4" text-anchor="end" font-weight="normal" font-style="normal" fill="#2a2a2a" stroke="#2a2a2a" stroke-width="0.26">0.05</text>
<line x1="48.599999999999994" y1="392.9" x2="51.8" y2="392.9" stroke="#2e2e2e" stroke-width="1.1"/>
<text x="45.99999999999999" y="395.4" font-size="6.4" text-anchor="end" font-weight="normal" font-style="normal" fill="#2a2a2a" stroke="#2a2a2a" stroke-width="0.26">0.10</text>
<line x1="48.599999999999994" y1="377.75" x2="51.8" y2="377.75" stroke="#2e2e2e" stroke-width="1.1"/>
<text x="45.99999999999999" y="380.25" font-size="6.4" text-anchor="end" font-weight="normal" font-style="normal" fill="#2a2a2a" stroke="#2a2a2a" stroke-width="0.26">0.15</text>
<line x1="48.599999999999994" y1="362.6" x2="51.8" y2="362.6" stroke="#2e2e2e" stroke-width="1.1"/>
<text x="45.99999999999999" y="365.1" font-size="6.4" text-anchor="end" font-weight="normal" font-style="normal" fill="#2a2a2a" stroke="#2a2a2a" stroke-width="0.26">0.20</text>
<line x1="51.8" y1="423.2" x2="182.5" y2="423.2" stroke="#2e2e2e" stroke-width="1.4"/>
<line x1="62.3" y1="423.2" x2="62.3" y2="426.2" stroke="#2e2e2e" stroke-width="1.1"/>
<line x1="78.5" y1="423.2" x2="78.5" y2="426.2" stroke="#2e2e2e" stroke-width="1.1"/>
<line x1="94.6" y1="423.2" x2="94.6" y2="426.2" stroke="#2e2e2e" stroke-width="1.1"/>
<line x1="110.7" y1="423.2" x2="110.7" y2="426.2" stroke="#2e2e2e" stroke-width="1.1"/>
<line x1="126.8" y1="423.2" x2="126.8" y2="426.2" stroke="#2e2e2e" stroke-width="1.1"/>
<line x1="142.9" y1="423.2" x2="142.9" y2="426.2" stroke="#2e2e2e" stroke-width="1.1"/>
<line x1="159.0" y1="423.2" x2="159.0" y2="426.2" stroke="#2e2e2e" stroke-width="1.1"/>
<line x1="174.8" y1="423.2" x2="174.8" y2="426.2" stroke="#2e2e2e" stroke-width="1.1"/>
<rect x="56.80" y="418.50" width="11.00" height="4.70" fill="#c2c4cb"/>
<rect x="73.00" y="418.50" width="11.00" height="4.70" fill="#c2c4cb"/>
<rect x="89.10" y="413.00" width="11.00" height="10.20" fill="#c2c4cb"/>
<rect x="105.20" y="413.80" width="11.00" height="9.40" fill="#c2c4cb"/>
<rect x="121.30" y="400.20" width="11.00" height="23.00" fill="#878b9b"/>
<rect x="137.40" y="402.00" width="11.00" height="21.20" fill="#878b9b"/>
<rect x="153.50" y="387.30" width="11.00" height="35.90" fill="#878b9b"/>
<rect x="169.30" y="373.80" width="11.00" height="49.40" fill="#878b9b"/>
<circle cx="59.00" cy="418.40" r="1.32" fill="#a02e64" stroke="#551236" stroke-width="0.55"/>
<circle cx="62.30" cy="418.60" r="1.32" fill="#a02e64" stroke="#551236" stroke-width="0.55"/>
<circle cx="65.60" cy="418.40" r="1.32" fill="#a02e64" stroke="#551236" stroke-width="0.55"/>
<circle cx="75.20" cy="418.40" r="1.32" fill="#cc9656" stroke="#654520" stroke-width="0.55"/>
<circle cx="78.50" cy="418.60" r="1.32" fill="#cc9656" stroke="#654520" stroke-width="0.55"/>
<circle cx="81.80" cy="418.40" r="1.32" fill="#cc9656" stroke="#654520" stroke-width="0.55"/>
<circle cx="91.30" cy="413.00" r="1.32" fill="#3a6c8e" stroke="#182c3a" stroke-width="0.55"/>
<circle cx="94.60" cy="413.20" r="1.32" fill="#3a6c8e" stroke="#182c3a" stroke-width="0.55"/>
<circle cx="97.90" cy="413.00" r="1.32" fill="#3a6c8e" stroke="#182c3a" stroke-width="0.55"/>
<line x1="110.7" y1="409.0" x2="110.7" y2="417.5" stroke="#2e2e2e" stroke-width="0.9"/>
<line x1="108.60000000000001" y1="409.0" x2="112.8" y2="409.0" stroke="#2e2e2e" stroke-width="0.9"/>
<line x1="108.60000000000001" y1="417.5" x2="112.8" y2="417.5" stroke="#2e2e2e" stroke-width="0.9"/>
<circle cx="107.40" cy="413.00" r="1.32" fill="#2f7a4a" stroke="#143a20" stroke-width="0.55"/>
<circle cx="110.70" cy="414.50" r="1.32" fill="#2f7a4a" stroke="#143a20" stroke-width="0.55"/>
<circle cx="114.00" cy="412.50" r="1.32" fill="#2f7a4a" stroke="#143a20" stroke-width="0.55"/>
<line x1="126.8" y1="396.5" x2="126.8" y2="404.0" stroke="#2e2e2e" stroke-width="0.9"/>
<line x1="124.7" y1="396.5" x2="128.9" y2="396.5" stroke="#2e2e2e" stroke-width="0.9"/>
<line x1="124.7" y1="404.0" x2="128.9" y2="404.0" stroke="#2e2e2e" stroke-width="0.9"/>
<circle cx="123.50" cy="398.00" r="1.32" fill="#a02e64" stroke="#551236" stroke-width="0.55"/>
<circle cx="126.80" cy="401.50" r="1.32" fill="#a02e64" stroke="#551236" stroke-width="0.55"/>
<circle cx="130.10" cy="402.50" r="1.32" fill="#a02e64" stroke="#551236" stroke-width="0.55"/>
<line x1="142.9" y1="400.0" x2="142.9" y2="403.5" stroke="#2e2e2e" stroke-width="0.9"/>
<line x1="140.8" y1="400.0" x2="145.0" y2="400.0" stroke="#2e2e2e" stroke-width="0.9"/>
<line x1="140.8" y1="403.5" x2="145.0" y2="403.5" stroke="#2e2e2e" stroke-width="0.9"/>
<circle cx="139.60" cy="401.00" r="1.32" fill="#cc9656" stroke="#654520" stroke-width="0.55"/>
<circle cx="142.90" cy="402.30" r="1.32" fill="#cc9656" stroke="#654520" stroke-width="0.55"/>
<circle cx="146.20" cy="402.00" r="1.32" fill="#cc9656" stroke="#654520" stroke-width="0.55"/>
<circle cx="155.70" cy="387.00" r="1.32" fill="#3a6c8e" stroke="#182c3a" stroke-width="0.55"/>
<circle cx="159.00" cy="387.60" r="1.32" fill="#3a6c8e" stroke="#182c3a" stroke-width="0.55"/>
<circle cx="162.30" cy="387.30" r="1.32" fill="#3a6c8e" stroke="#182c3a" stroke-width="0.55"/>
<line x1="174.8" y1="366.0" x2="174.8" y2="381.0" stroke="#2e2e2e" stroke-width="0.9"/>
<line x1="172.70000000000002" y1="366.0" x2="176.9" y2="366.0" stroke="#2e2e2e" stroke-width="0.9"/>
<line x1="172.70000000000002" y1="381.0" x2="176.9" y2="381.0" stroke="#2e2e2e" stroke-width="0.9"/>
<circle cx="171.50" cy="368.50" r="1.32" fill="#2f7a4a" stroke="#143a20" stroke-width="0.55"/>
<circle cx="174.80" cy="374.00" r="1.32" fill="#2f7a4a" stroke="#143a20" stroke-width="0.55"/>
<circle cx="178.10" cy="379.00" r="1.32" fill="#2f7a4a" stroke="#143a20" stroke-width="0.55"/>
<path d="M78.3,407.2 L78.3,402.9 L94.4,402.9 L94.4,407.2" stroke="#2e2e2e" stroke-width="0.9" fill="none"/>
<circle cx="84.85" cy="399.70" r="0.9" fill="#262626"/>
<circle cx="87.85" cy="399.70" r="0.9" fill="#262626"/>
<path d="M78.3,394.8 L78.3,390.5 L110.6,390.5 L110.6,394.8" stroke="#2e2e2e" stroke-width="0.9" fill="none"/>
<circle cx="92.95" cy="387.30" r="0.9" fill="#262626"/>
<circle cx="95.95" cy="387.30" r="0.9" fill="#262626"/>
<path d="M62.1,382.2 L62.1,377.9 L126.7,377.9 L126.7,382.2" stroke="#2e2e2e" stroke-width="0.9" fill="none"/>
<circle cx="91.40" cy="374.70" r="0.9" fill="#262626"/>
<circle cx="94.40" cy="374.70" r="0.9" fill="#262626"/>
<circle cx="97.40" cy="374.70" r="0.9" fill="#262626"/>
<path d="M142.9,372.8 L142.9,368.5 L159.0,368.5 L159.0,372.8" stroke="#2e2e2e" stroke-width="0.9" fill="none"/>
<circle cx="147.95" cy="365.30" r="0.9" fill="#262626"/>
<circle cx="150.95" cy="365.30" r="0.9" fill="#262626"/>
<circle cx="153.95" cy="365.30" r="0.9" fill="#262626"/>
<path d="M142.9,359.3 L142.9,355.0 L174.4,355.0 L174.4,359.3" stroke="#2e2e2e" stroke-width="0.9" fill="none"/>
<circle cx="155.65" cy="351.80" r="0.9" fill="#262626"/>
<circle cx="158.65" cy="351.80" r="0.9" fill="#262626"/>
<circle cx="161.65" cy="351.80" r="0.9" fill="#262626"/>
<path d="M159.0,349.3 L159.0,345.0 L174.4,345.0 L174.4,349.3" stroke="#2e2e2e" stroke-width="0.9" fill="none"/>
<circle cx="166.70" cy="341.80" r="0.9" fill="#262626"/>
<path d="M78.3,350.40000000000003 L78.3,346.1 L142.9,346.1 L142.9,350.40000000000003" stroke="#2e2e2e" stroke-width="0.9" fill="none"/>
<circle cx="107.60" cy="342.90" r="0.9" fill="#262626"/>
<circle cx="110.60" cy="342.90" r="0.9" fill="#262626"/>
<circle cx="113.60" cy="342.90" r="0.9" fill="#262626"/>
<path d="M94.4,343.7 L94.4,339.4 L159.0,339.4 L159.0,343.7" stroke="#2e2e2e" stroke-width="0.9" fill="none"/>
<circle cx="123.70" cy="336.20" r="0.9" fill="#262626"/>
<circle cx="126.70" cy="336.20" r="0.9" fill="#262626"/>
<circle cx="129.70" cy="336.20" r="0.9" fill="#262626"/>
<path d="M110.6,336.40000000000003 L110.6,332.1 L174.4,332.1 L174.4,336.40000000000003" stroke="#2e2e2e" stroke-width="0.9" fill="none"/>
<circle cx="139.50" cy="328.90" r="0.9" fill="#262626"/>
<circle cx="142.50" cy="328.90" r="0.9" fill="#262626"/>
<circle cx="145.50" cy="328.90" r="0.9" fill="#262626"/>
<text x="54.4" y="435.6" font-size="6.4" text-anchor="end" font-weight="normal" font-style="normal" fill="#2a2a2a" stroke="#2a2a2a" stroke-width="0.26">Vector</text>
<text x="54.4" y="445.2" font-size="6.4" text-anchor="end" font-weight="normal" font-style="normal" fill="#2a2a2a" stroke="#2a2a2a" stroke-width="0.26">FOXO1</text>
<text x="54.4" y="455.2" font-size="6.4" text-anchor="end" font-weight="normal" font-style="normal" fill="#2a2a2a" stroke="#2a2a2a" stroke-width="0.26">FOXO1-AAA</text>
<line x1="60.55" y1="433.55" x2="64.05" y2="433.55" stroke="#4a4a4a" stroke-width="1.05"/>
<line x1="76.8" y1="433.5" x2="80.2" y2="433.5" stroke="#333" stroke-width="0.95"/>
<line x1="78.5" y1="431.75" x2="78.5" y2="435.25" stroke="#333" stroke-width="0.95"/>
<line x1="92.85" y1="433.55" x2="96.35" y2="433.55" stroke="#4a4a4a" stroke-width="1.05"/>
<line x1="108.95" y1="433.55" x2="112.45" y2="433.55" stroke="#4a4a4a" stroke-width="1.05"/>
<line x1="125.05" y1="433.55" x2="128.55" y2="433.55" stroke="#4a4a4a" stroke-width="1.05"/>
<line x1="141.20000000000002" y1="433.5" x2="144.6" y2="433.5" stroke="#333" stroke-width="0.95"/>
<line x1="142.9" y1="431.75" x2="142.9" y2="435.25" stroke="#333" stroke-width="0.95"/>
<line x1="157.25" y1="433.55" x2="160.75" y2="433.55" stroke="#4a4a4a" stroke-width="1.05"/>
<line x1="173.05" y1="433.55" x2="176.55" y2="433.55" stroke="#4a4a4a" stroke-width="1.05"/>
<line x1="60.55" y1="443.15" x2="64.05" y2="443.15" stroke="#4a4a4a" stroke-width="1.05"/>
<line x1="76.75" y1="443.15" x2="80.25" y2="443.15" stroke="#4a4a4a" stroke-width="1.05"/>
<line x1="92.89999999999999" y1="443.09999999999997" x2="96.3" y2="443.09999999999997" stroke="#333" stroke-width="0.95"/>
<line x1="94.6" y1="441.34999999999997" x2="94.6" y2="444.84999999999997" stroke="#333" stroke-width="0.95"/>
<line x1="108.95" y1="443.15" x2="112.45" y2="443.15" stroke="#4a4a4a" stroke-width="1.05"/>
<line x1="125.05" y1="443.15" x2="128.55" y2="443.15" stroke="#4a4a4a" stroke-width="1.05"/>
<line x1="141.15" y1="443.15" x2="144.65" y2="443.15" stroke="#4a4a4a" stroke-width="1.05"/>
<line x1="157.3" y1="443.09999999999997" x2="160.7" y2="443.09999999999997" stroke="#333" stroke-width="0.95"/>
<line x1="159.0" y1="441.34999999999997" x2="159.0" y2="444.84999999999997" stroke="#333" stroke-width="0.95"/>
<line x1="173.05" y1="443.15" x2="176.55" y2="443.15" stroke="#4a4a4a" stroke-width="1.05"/>
<line x1="60.55" y1="453.15" x2="64.05" y2="453.15" stroke="#4a4a4a" stroke-width="1.05"/>
<line x1="76.75" y1="453.15" x2="80.25" y2="453.15" stroke="#4a4a4a" stroke-width="1.05"/>
<line x1="92.85" y1="453.15" x2="96.35" y2="453.15" stroke="#4a4a4a" stroke-width="1.05"/>
<line x1="109.0" y1="453.09999999999997" x2="112.4" y2="453.09999999999997" stroke="#333" stroke-width="0.95"/>
<line x1="110.7" y1="451.34999999999997" x2="110.7" y2="454.84999999999997" stroke="#333" stroke-width="0.95"/>
<line x1="125.05" y1="453.15" x2="128.55" y2="453.15" stroke="#4a4a4a" stroke-width="1.05"/>
<line x1="141.15" y1="453.15" x2="144.65" y2="453.15" stroke="#4a4a4a" stroke-width="1.05"/>
<line x1="157.25" y1="453.15" x2="160.75" y2="453.15" stroke="#4a4a4a" stroke-width="1.05"/>
<line x1="173.10000000000002" y1="453.09999999999997" x2="176.5" y2="453.09999999999997" stroke="#333" stroke-width="0.95"/>
<line x1="174.8" y1="451.34999999999997" x2="174.8" y2="454.84999999999997" stroke="#333" stroke-width="0.95"/>
<line x1="124.0" y1="460.1" x2="177.7" y2="460.1" stroke="#2e2e2e" stroke-width="1.2"/>
<text x="150.9" y="469.6" font-size="6.4" text-anchor="middle" font-weight="normal" font-style="normal" fill="#2a2a2a" stroke="#2a2a2a" stroke-width="0.26">BMP6</text>
<text x="26.6" y="392.8" font-size="6.9" text-anchor="middle" font-weight="normal" font-style="italic" fill="#2a2a2a" stroke="#2a2a2a" stroke-width="0.26" transform="rotate(-90 26.6 392.8)" textLength="62.9" lengthAdjust="spacingAndGlyphs">Hamp1 mRNA/β-actin</text>
<text x="200.6" y="322.4" font-size="11.4" text-anchor="start" font-weight="bold" font-style="normal" fill="#111">G</text>
<text x="251.2" y="331.5" font-size="6.4" text-anchor="end" font-weight="normal" font-style="normal" fill="#2a2a2a" stroke="#2a2a2a" stroke-width="0.26">Vector</text>
<text x="251.2" y="340.9" font-size="6.4" text-anchor="end" font-weight="normal" font-style="normal" fill="#2a2a2a" stroke="#2a2a2a" stroke-width="0.26">FOXO1</text>
<text x="251.2" y="350.9" font-size="6.4" text-anchor="end" font-weight="normal" font-style="normal" fill="#2a2a2a" stroke="#2a2a2a" stroke-width="0.26">FOXO1-AAA</text>
<text x="251.2" y="361.0" font-size="6.4" text-anchor="end" font-weight="normal" font-style="normal" fill="#2a2a2a" stroke="#2a2a2a" stroke-width="0.26">BMP6</text>
<line x1="260.15" y1="329.25" x2="263.65" y2="329.25" stroke="#4a4a4a" stroke-width="1.05"/>
<line x1="269.5" y1="329.2" x2="272.9" y2="329.2" stroke="#333" stroke-width="0.95"/>
<line x1="271.2" y1="327.45" x2="271.2" y2="330.95" stroke="#333" stroke-width="0.95"/>
<line x1="278.45" y1="329.25" x2="281.95" y2="329.25" stroke="#4a4a4a" stroke-width="1.05"/>
<line x1="287.25" y1="329.25" x2="290.75" y2="329.25" stroke="#4a4a4a" stroke-width="1.05"/>
<line x1="296.85" y1="329.25" x2="300.35" y2="329.25" stroke="#4a4a4a" stroke-width="1.05"/>
<line x1="305.90000000000003" y1="329.2" x2="309.3" y2="329.2" stroke="#333" stroke-width="0.95"/>
<line x1="307.6" y1="327.45" x2="307.6" y2="330.95" stroke="#333" stroke-width="0.95"/>
<line x1="314.75" y1="329.25" x2="318.25" y2="329.25" stroke="#4a4a4a" stroke-width="1.05"/>
<line x1="323.75" y1="329.25" x2="327.25" y2="329.25" stroke="#4a4a4a" stroke-width="1.05"/>
<line x1="260.15" y1="338.65" x2="263.65" y2="338.65" stroke="#4a4a4a" stroke-width="1.05"/>
<line x1="269.45" y1="338.65" x2="272.95" y2="338.65" stroke="#4a4a4a" stroke-width="1.05"/>
<line x1="278.5" y1="338.59999999999997" x2="281.9" y2="338.59999999999997" stroke="#333" stroke-width="0.95"/>
<line x1="280.2" y1="336.84999999999997" x2="280.2" y2="340.34999999999997" stroke="#333" stroke-width="0.95"/>
<line x1="287.25" y1="338.65" x2="290.75" y2="338.65" stroke="#4a4a4a" stroke-width="1.05"/>
<line x1="296.85" y1="338.65" x2="300.35" y2="338.65" stroke="#4a4a4a" stroke-width="1.05"/>
<line x1="305.85" y1="338.65" x2="309.35" y2="338.65" stroke="#4a4a4a" stroke-width="1.05"/>
<line x1="314.8" y1="338.59999999999997" x2="318.2" y2="338.59999999999997" stroke="#333" stroke-width="0.95"/>
<line x1="316.5" y1="336.84999999999997" x2="316.5" y2="340.34999999999997" stroke="#333" stroke-width="0.95"/>
<line x1="323.75" y1="338.65" x2="327.25" y2="338.65" stroke="#4a4a4a" stroke-width="1.05"/>
<line x1="260.15" y1="348.65" x2="263.65" y2="348.65" stroke="#4a4a4a" stroke-width="1.05"/>
<line x1="269.45" y1="348.65" x2="272.95" y2="348.65" stroke="#4a4a4a" stroke-width="1.05"/>
<line x1="278.45" y1="348.65" x2="281.95" y2="348.65" stroke="#4a4a4a" stroke-width="1.05"/>
<line x1="287.3" y1="348.59999999999997" x2="290.7" y2="348.59999999999997" stroke="#333" stroke-width="0.95"/>
<line x1="289.0" y1="346.84999999999997" x2="289.0" y2="350.34999999999997" stroke="#333" stroke-width="0.95"/>
<line x1="296.85" y1="348.65" x2="300.35" y2="348.65" stroke="#4a4a4a" stroke-width="1.05"/>
<line x1="305.85" y1="348.65" x2="309.35" y2="348.65" stroke="#4a4a4a" stroke-width="1.05"/>
<line x1="314.75" y1="348.65" x2="318.25" y2="348.65" stroke="#4a4a4a" stroke-width="1.05"/>
<line x1="323.8" y1="348.59999999999997" x2="327.2" y2="348.59999999999997" stroke="#333" stroke-width="0.95"/>
<line x1="325.5" y1="346.84999999999997" x2="325.5" y2="350.34999999999997" stroke="#333" stroke-width="0.95"/>
<line x1="260.15" y1="358.75" x2="263.65" y2="358.75" stroke="#4a4a4a" stroke-width="1.05"/>
<line x1="269.45" y1="358.75" x2="272.95" y2="358.75" stroke="#4a4a4a" stroke-width="1.05"/>
<line x1="278.45" y1="358.75" x2="281.95" y2="358.75" stroke="#4a4a4a" stroke-width="1.05"/>
<line x1="287.25" y1="358.75" x2="290.75" y2="358.75" stroke="#4a4a4a" stroke-width="1.05"/>
<line x1="296.90000000000003" y1="358.7" x2="300.3" y2="358.7" stroke="#333" stroke-width="0.95"/>
<line x1="298.6" y1="356.95" x2="298.6" y2="360.45" stroke="#333" stroke-width="0.95"/>
<line x1="305.90000000000003" y1="358.7" x2="309.3" y2="358.7" stroke="#333" stroke-width="0.95"/>
<line x1="307.6" y1="356.95" x2="307.6" y2="360.45" stroke="#333" stroke-width="0.95"/>
<line x1="314.8" y1="358.7" x2="318.2" y2="358.7" stroke="#333" stroke-width="0.95"/>
<line x1="316.5" y1="356.95" x2="316.5" y2="360.45" stroke="#333" stroke-width="0.95"/>
<line x1="323.8" y1="358.7" x2="327.2" y2="358.7" stroke="#333" stroke-width="0.95"/>
<line x1="325.5" y1="356.95" x2="325.5" y2="360.45" stroke="#333" stroke-width="0.95"/>
<rect x="254.5" y="366.4" width="78.69999999999999" height="11.900000000000034" fill="#ededed" stroke="#6a6a6a" stroke-width="0.75"/>
<rect x="255.4" y="367.29999999999995" width="76.89999999999999" height="10.100000000000033" fill="none" stroke="#d8d8d8" stroke-width="0.8"/>
<text x="251.2" y="374.65000000000003" font-size="6.4" text-anchor="end" font-weight="normal" font-style="normal" fill="#2a2a2a" stroke="#2a2a2a" stroke-width="0.26">Foxo1</text>
<rect x="254.5" y="380.9" width="78.69999999999999" height="11.400000000000034" fill="#ededed" stroke="#6a6a6a" stroke-width="0.75"/>
<rect x="255.4" y="381.79999999999995" width="76.89999999999999" height="9.600000000000033" fill="none" stroke="#d8d8d8" stroke-width="0.8"/>
<text x="251.2" y="388.90000000000003" font-size="6.4" text-anchor="end" font-weight="normal" font-style="normal" fill="#2a2a2a" stroke="#2a2a2a" stroke-width="0.26">Smad1</text>
<rect x="254.5" y="395.8" width="78.69999999999999" height="9.0" fill="#ededed" stroke="#6a6a6a" stroke-width="0.75"/>
<rect x="255.4" y="396.7" width="76.89999999999999" height="7.2" fill="none" stroke="#d8d8d8" stroke-width="0.8"/>
<text x="251.2" y="402.6" font-size="6.4" text-anchor="end" font-weight="normal" font-style="normal" fill="#2a2a2a" stroke="#2a2a2a" stroke-width="0.26">Smad5</text>
<rect x="254.5" y="408.4" width="78.69999999999999" height="10.900000000000034" fill="#ededed" stroke="#6a6a6a" stroke-width="0.75"/>
<rect x="255.4" y="409.29999999999995" width="76.89999999999999" height="9.100000000000033" fill="none" stroke="#d8d8d8" stroke-width="0.8"/>
<text x="251.2" y="416.15000000000003" font-size="6.4" text-anchor="end" font-weight="normal" font-style="normal" fill="#2a2a2a" stroke="#2a2a2a" stroke-width="0.26">Smad4</text>
<rect x="254.5" y="422.3" width="78.69999999999999" height="12.399999999999977" fill="#ededed" stroke="#6a6a6a" stroke-width="0.75"/>
<rect x="255.4" y="423.2" width="76.89999999999999" height="10.599999999999977" fill="none" stroke="#d8d8d8" stroke-width="0.8"/>
<text x="251.2" y="430.8" font-size="6.4" text-anchor="end" font-weight="normal" font-style="normal" fill="#2a2a2a" stroke="#2a2a2a" stroke-width="0.26">pSmad1/5/8</text>
<rect x="254.5" y="437.7" width="78.69999999999999" height="12.300000000000011" fill="#ededed" stroke="#6a6a6a" stroke-width="0.75"/>
<rect x="255.4" y="438.59999999999997" width="76.89999999999999" height="10.50000000000001" fill="none" stroke="#d8d8d8" stroke-width="0.8"/>
<text x="251.2" y="446.15000000000003" font-size="6.4" text-anchor="end" font-weight="normal" font-style="normal" fill="#2a2a2a" stroke="#2a2a2a" stroke-width="0.26">β-actin</text>
<rect x="258.25" y="370.60" width="7.50" height="3.40" rx="1.70" fill="#111" fill-opacity="0.08" filter="url(#b1)"/>
<rect x="267.15" y="370.60" width="7.50" height="3.40" rx="1.70" fill="#111" fill-opacity="0.08" filter="url(#b1)"/>
<rect x="276.15" y="370.60" width="7.50" height="3.40" rx="1.70" fill="#111" fill-opacity="1.00" filter="url(#b1)"/>
<rect x="285.05" y="370.60" width="7.50" height="3.40" rx="1.70" fill="#111" fill-opacity="0.95" filter="url(#b1)"/>
<rect x="294.45" y="370.60" width="7.50" height="3.40" rx="1.70" fill="#111" fill-opacity="0.06" filter="url(#b1)"/>
<rect x="303.35" y="370.60" width="7.50" height="3.40" rx="1.70" fill="#111" fill-opacity="0.10" filter="url(#b1)"/>
<rect x="312.95" y="370.60" width="7.50" height="3.40" rx="1.70" fill="#111" fill-opacity="1.00" filter="url(#b1)"/>
<rect x="321.95" y="370.60" width="7.50" height="3.40" rx="1.70" fill="#111" fill-opacity="0.95" filter="url(#b1)"/>
<rect x="258.10" y="385.10" width="7.80" height="2.80" rx="1.40" fill="#111" fill-opacity="0.90" filter="url(#b1)"/>
<rect x="267.00" y="385.10" width="7.80" height="2.80" rx="1.40" fill="#111" fill-opacity="0.85" filter="url(#b1)"/>
<rect x="276.00" y="385.10" width="7.80" height="2.80" rx="1.40" fill="#111" fill-opacity="0.90" filter="url(#b1)"/>
<rect x="284.90" y="385.10" width="7.80" height="2.80" rx="1.40" fill="#111" fill-opacity="0.90" filter="url(#b1)"/>
<rect x="294.30" y="385.10" width="7.80" height="2.80" rx="1.40" fill="#111" fill-opacity="0.95" filter="url(#b1)"/>
<rect x="303.20" y="385.10" width="7.80" height="2.80" rx="1.40" fill="#111" fill-opacity="0.95" filter="url(#b1)"/>
<rect x="312.80" y="385.10" width="7.80" height="2.80" rx="1.40" fill="#111" fill-opacity="1.00" filter="url(#b1)"/>
<rect x="321.80" y="385.10" width="7.80" height="2.80" rx="1.40" fill="#111" fill-opacity="0.85" filter="url(#b1)"/>
<rect x="258.25" y="398.80" width="7.50" height="3.60" rx="1.80" fill="#111" fill-opacity="0.60" filter="url(#b1)"/>
<rect x="267.15" y="398.80" width="7.50" height="3.60" rx="1.80" fill="#111" fill-opacity="0.40" filter="url(#b1)"/>
<rect x="276.15" y="398.80" width="7.50" height="3.60" rx="1.80" fill="#111" fill-opacity="0.55" filter="url(#b1)"/>
<rect x="285.05" y="398.80" width="7.50" height="3.60" rx="1.80" fill="#111" fill-opacity="0.50" filter="url(#b1)"/>
<rect x="294.45" y="398.80" width="7.50" height="3.60" rx="1.80" fill="#111" fill-opacity="0.60" filter="url(#b1)"/>
<rect x="303.35" y="398.80" width="7.50" height="3.60" rx="1.80" fill="#111" fill-opacity="0.55" filter="url(#b1)"/>
<rect x="312.95" y="398.80" width="7.50" height="3.60" rx="1.80" fill="#111" fill-opacity="0.70" filter="url(#b1)"/>
<rect x="321.95" y="398.80" width="7.50" height="3.60" rx="1.80" fill="#111" fill-opacity="0.40" filter="url(#b1)"/>
<rect x="258.10" y="412.50" width="7.80" height="2.80" rx="1.40" fill="#111" fill-opacity="0.90" filter="url(#b1)"/>
<rect x="267.00" y="412.50" width="7.80" height="2.80" rx="1.40" fill="#111" fill-opacity="0.90" filter="url(#b1)"/>
<rect x="276.00" y="412.50" width="7.80" height="2.80" rx="1.40" fill="#111" fill-opacity="0.85" filter="url(#b1)"/>
<rect x="284.90" y="412.50" width="7.80" height="2.80" rx="1.40" fill="#111" fill-opacity="0.90" filter="url(#b1)"/>
<rect x="294.30" y="412.50" width="7.80" height="2.80" rx="1.40" fill="#111" fill-opacity="0.90" filter="url(#b1)"/>
<rect x="303.20" y="412.50" width="7.80" height="2.80" rx="1.40" fill="#111" fill-opacity="0.95" filter="url(#b1)"/>
<rect x="312.80" y="412.50" width="7.80" height="2.80" rx="1.40" fill="#111" fill-opacity="1.00" filter="url(#b1)"/>
<rect x="321.80" y="412.50" width="7.80" height="2.80" rx="1.40" fill="#111" fill-opacity="0.95" filter="url(#b1)"/>
<rect x="258.10" y="424.00" width="7.80" height="8.00" rx="2.50" fill="#111" fill-opacity="0.08" filter="url(#b2)"/>
<rect x="267.00" y="424.00" width="7.80" height="8.00" rx="2.50" fill="#111" fill-opacity="0.12" filter="url(#b2)"/>
<rect x="267.20" y="428.30" width="7.40" height="3.40" rx="1.70" fill="#111" fill-opacity="0.05" filter="url(#b1)"/>
<rect x="276.00" y="424.00" width="7.80" height="8.00" rx="2.50" fill="#111" fill-opacity="0.72" filter="url(#b2)"/>
<rect x="276.20" y="428.30" width="7.40" height="3.40" rx="1.70" fill="#111" fill-opacity="0.55" filter="url(#b1)"/>
<rect x="284.90" y="424.00" width="7.80" height="8.00" rx="2.50" fill="#111" fill-opacity="0.75" filter="url(#b2)"/>
<rect x="285.10" y="428.30" width="7.40" height="3.40" rx="1.70" fill="#111" fill-opacity="0.95" filter="url(#b1)"/>
<rect x="294.30" y="424.00" width="7.80" height="8.00" rx="2.50" fill="#111" fill-opacity="0.25" filter="url(#b2)"/>
<rect x="294.50" y="428.30" width="7.40" height="3.40" rx="1.70" fill="#111" fill-opacity="0.10" filter="url(#b1)"/>
<rect x="303.20" y="424.00" width="7.80" height="8.00" rx="2.50" fill="#111" fill-opacity="0.08" filter="url(#b2)"/>
<rect x="312.80" y="424.00" width="7.80" height="8.00" rx="2.50" fill="#111" fill-opacity="0.75" filter="url(#b2)"/>
<rect x="313.00" y="428.30" width="7.40" height="3.40" rx="1.70" fill="#111" fill-opacity="1.00" filter="url(#b1)"/>
<rect x="321.80" y="424.00" width="7.80" height="8.00" rx="2.50" fill="#111" fill-opacity="0.70" filter="url(#b2)"/>
<rect x="322.00" y="428.30" width="7.40" height="3.40" rx="1.70" fill="#111" fill-opacity="0.85" filter="url(#b1)"/>
<rect x="258.10" y="442.60" width="7.80" height="2.80" rx="1.40" fill="#111" fill-opacity="0.95" filter="url(#b1)"/>
<rect x="267.00" y="442.60" width="7.80" height="2.80" rx="1.40" fill="#111" fill-opacity="0.95" filter="url(#b1)"/>
<rect x="276.00" y="442.60" width="7.80" height="2.80" rx="1.40" fill="#111" fill-opacity="0.95" filter="url(#b1)"/>
<rect x="284.90" y="442.60" width="7.80" height="2.80" rx="1.40" fill="#111" fill-opacity="0.95" filter="url(#b1)"/>
<rect x="294.30" y="442.60" width="7.80" height="2.80" rx="1.40" fill="#111" fill-opacity="0.95" filter="url(#b1)"/>
<rect x="303.20" y="442.60" width="7.80" height="2.80" rx="1.40" fill="#111" fill-opacity="0.95" filter="url(#b1)"/>
<rect x="312.80" y="442.60" width="7.80" height="2.80" rx="1.40" fill="#111" fill-opacity="0.95" filter="url(#b1)"/>
<rect x="321.80" y="442.60" width="7.80" height="2.80" rx="1.40" fill="#111" fill-opacity="0.95" filter="url(#b1)"/>
<line x1="388.7" y1="372.79999999999995" x2="388.7" y2="423.4" stroke="#2e2e2e" stroke-width="1.4"/>
<line x1="385.5" y1="423.4" x2="388.7" y2="423.4" stroke="#2e2e2e" stroke-width="1.1"/>
<text x="382.9" y="425.9" font-size="6.4" text-anchor="end" font-weight="normal" font-style="normal" fill="#2a2a2a" stroke="#2a2a2a" stroke-width="0.26">0</text>
<line x1="385.5" y1="407.06666666666666" x2="388.7" y2="407.06666666666666" stroke="#2e2e2e" stroke-width="1.1"/>
<text x="382.9" y="409.56666666666666" font-size="6.4" text-anchor="end" font-weight="normal" font-style="normal" fill="#2a2a2a" stroke="#2a2a2a" stroke-width="0.26">5</text>
<line x1="385.5" y1="390.7333333333333" x2="388.7" y2="390.7333333333333" stroke="#2e2e2e" stroke-width="1.1"/>
<text x="382.9" y="393.2333333333333" font-size="6.4" text-anchor="end" font-weight="normal" font-style="normal" fill="#2a2a2a" stroke="#2a2a2a" stroke-width="0.26">10</text>
<line x1="385.5" y1="374.4" x2="388.7" y2="374.4" stroke="#2e2e2e" stroke-width="1.1"/>
<text x="382.9" y="376.9" font-size="6.4" text-anchor="end" font-weight="normal" font-style="normal" fill="#2a2a2a" stroke="#2a2a2a" stroke-width="0.26">15</text>
<line x1="388.7" y1="423.4" x2="493.5" y2="423.4" stroke="#2e2e2e" stroke-width="1.4"/>
<line x1="395.3" y1="423.4" x2="395.3" y2="426.4" stroke="#2e2e2e" stroke-width="1.1"/>
<line x1="408.3" y1="423.4" x2="408.3" y2="426.4" stroke="#2e2e2e" stroke-width="1.1"/>
<line x1="421.2" y1="423.4" x2="421.2" y2="426.4" stroke="#2e2e2e" stroke-width="1.1"/>
<line x1="434.2" y1="423.4" x2="434.2" y2="426.4" stroke="#2e2e2e" stroke-width="1.1"/>
<line x1="446.8" y1="423.4" x2="446.8" y2="426.4" stroke="#2e2e2e" stroke-width="1.1"/>
<line x1="460.0" y1="423.4" x2="460.0" y2="426.4" stroke="#2e2e2e" stroke-width="1.1"/>
<line x1="473.0" y1="423.4" x2="473.0" y2="426.4" stroke="#2e2e2e" stroke-width="1.1"/>
<line x1="485.8" y1="423.4" x2="485.8" y2="426.4" stroke="#2e2e2e" stroke-width="1.1"/>
<rect x="391.00" y="419.70" width="8.60" height="3.70" fill="#c2c4cb"/>
<rect x="404.00" y="419.50" width="8.60" height="3.90" fill="#c2c4cb"/>
<rect x="416.90" y="408.00" width="8.60" height="15.40" fill="#c2c4cb"/>
<rect x="429.90" y="398.70" width="8.60" height="24.70" fill="#c2c4cb"/>
<rect x="442.50" y="414.80" width="8.60" height="8.60" fill="#878b9b"/>
<rect x="455.70" y="415.60" width="8.60" height="7.80" fill="#878b9b"/>
<rect x="468.70" y="399.50" width="8.60" height="23.90" fill="#878b9b"/>
<rect x="481.50" y="383.90" width="8.60" height="39.50" fill="#878b9b"/>
<circle cx="392.70" cy="419.00" r="1.32" fill="#a02e64" stroke="#551236" stroke-width="0.55"/>
<circle cx="395.30" cy="420.00" r="1.32" fill="#a02e64" stroke="#551236" stroke-width="0.55"/>
<circle cx="397.90" cy="420.50" r="1.32" fill="#a02e64" stroke="#551236" stroke-width="0.55"/>
<circle cx="405.70" cy="419.00" r="1.32" fill="#cc9656" stroke="#654520" stroke-width="0.55"/>
<circle cx="408.30" cy="420.00" r="1.32" fill="#cc9656" stroke="#654520" stroke-width="0.55"/>
<circle cx="410.90" cy="420.30" r="1.32" fill="#cc9656" stroke="#654520" stroke-width="0.55"/>
<line x1="421.2" y1="402.0" x2="421.2" y2="412.0" stroke="#2e2e2e" stroke-width="0.9"/>
<line x1="419.09999999999997" y1="402.0" x2="423.3" y2="402.0" stroke="#2e2e2e" stroke-width="0.9"/>
<line x1="419.09999999999997" y1="412.0" x2="423.3" y2="412.0" stroke="#2e2e2e" stroke-width="0.9"/>
<circle cx="418.60" cy="404.50" r="1.32" fill="#3a6c8e" stroke="#182c3a" stroke-width="0.55"/>
<circle cx="421.20" cy="408.50" r="1.32" fill="#3a6c8e" stroke="#182c3a" stroke-width="0.55"/>
<circle cx="423.80" cy="410.00" r="1.32" fill="#3a6c8e" stroke="#182c3a" stroke-width="0.55"/>
<line x1="434.2" y1="396.0" x2="434.2" y2="401.0" stroke="#2e2e2e" stroke-width="0.9"/>
<line x1="432.09999999999997" y1="396.0" x2="436.3" y2="396.0" stroke="#2e2e2e" stroke-width="0.9"/>
<line x1="432.09999999999997" y1="401.0" x2="436.3" y2="401.0" stroke="#2e2e2e" stroke-width="0.9"/>
<circle cx="431.60" cy="397.00" r="1.32" fill="#2f7a4a" stroke="#143a20" stroke-width="0.55"/>
<circle cx="434.20" cy="399.50" r="1.32" fill="#2f7a4a" stroke="#143a20" stroke-width="0.55"/>
<circle cx="436.80" cy="400.50" r="1.32" fill="#2f7a4a" stroke="#143a20" stroke-width="0.55"/>
<line x1="446.8" y1="412.5" x2="446.8" y2="417.0" stroke="#2e2e2e" stroke-width="0.9"/>
<line x1="444.7" y1="412.5" x2="448.90000000000003" y2="412.5" stroke="#2e2e2e" stroke-width="0.9"/>
<line x1="444.7" y1="417.0" x2="448.90000000000003" y2="417.0" stroke="#2e2e2e" stroke-width="0.9"/>
<circle cx="444.20" cy="413.50" r="1.32" fill="#a02e64" stroke="#551236" stroke-width="0.55"/>
<circle cx="446.80" cy="415.00" r="1.32" fill="#a02e64" stroke="#551236" stroke-width="0.55"/>
<circle cx="449.40" cy="416.00" r="1.32" fill="#a02e64" stroke="#551236" stroke-width="0.55"/>
<line x1="460.0" y1="414.0" x2="460.0" y2="417.0" stroke="#2e2e2e" stroke-width="0.9"/>
<line x1="457.9" y1="414.0" x2="462.1" y2="414.0" stroke="#2e2e2e" stroke-width="0.9"/>
<line x1="457.9" y1="417.0" x2="462.1" y2="417.0" stroke="#2e2e2e" stroke-width="0.9"/>
<circle cx="457.40" cy="414.80" r="1.32" fill="#cc9656" stroke="#654520" stroke-width="0.55"/>
<circle cx="460.00" cy="415.60" r="1.32" fill="#cc9656" stroke="#654520" stroke-width="0.55"/>
<circle cx="462.60" cy="416.20" r="1.32" fill="#cc9656" stroke="#654520" stroke-width="0.55"/>
<line x1="473.0" y1="396.0" x2="473.0" y2="403.0" stroke="#2e2e2e" stroke-width="0.9"/>
<line x1="470.9" y1="396.0" x2="475.1" y2="396.0" stroke="#2e2e2e" stroke-width="0.9"/>
<line x1="470.9" y1="403.0" x2="475.1" y2="403.0" stroke="#2e2e2e" stroke-width="0.9"/>
<circle cx="470.40" cy="397.50" r="1.32" fill="#3a6c8e" stroke="#182c3a" stroke-width="0.55"/>
<circle cx="473.00" cy="400.00" r="1.32" fill="#3a6c8e" stroke="#182c3a" stroke-width="0.55"/>
<circle cx="475.60" cy="401.50" r="1.32" fill="#3a6c8e" stroke="#182c3a" stroke-width="0.55"/>
<line x1="485.8" y1="381.0" x2="485.8" y2="386.5" stroke="#2e2e2e" stroke-width="0.9"/>
<line x1="483.7" y1="381.0" x2="487.90000000000003" y2="381.0" stroke="#2e2e2e" stroke-width="0.9"/>
<line x1="483.7" y1="386.5" x2="487.90000000000003" y2="386.5" stroke="#2e2e2e" stroke-width="0.9"/>
<circle cx="483.20" cy="382.50" r="1.32" fill="#2f7a4a" stroke="#143a20" stroke-width="0.55"/>
<circle cx="485.80" cy="384.00" r="1.32" fill="#2f7a4a" stroke="#143a20" stroke-width="0.55"/>
<circle cx="488.40" cy="385.00" r="1.32" fill="#2f7a4a" stroke="#143a20" stroke-width="0.55"/>
<path d="M407.5,400.8 L407.5,397.3 L420.4,397.3 L420.4,400.8" stroke="#2e2e2e" stroke-width="0.9" fill="none"/>
<circle cx="410.95" cy="394.10" r="0.9" fill="#262626"/>
<circle cx="413.95" cy="394.10" r="0.9" fill="#262626"/>
<circle cx="416.95" cy="394.10" r="0.9" fill="#262626"/>
<path d="M407.5,392.2 L407.5,388.7 L434.2,388.7 L434.2,392.2" stroke="#2e2e2e" stroke-width="0.9" fill="none"/>
<circle cx="417.85" cy="385.50" r="0.9" fill="#262626"/>
<circle cx="420.85" cy="385.50" r="0.9" fill="#262626"/>
<circle cx="423.85" cy="385.50" r="0.9" fill="#262626"/>
<path d="M420.4,381.4 L420.4,377.9 L434.2,377.9 L434.2,381.4" stroke="#2e2e2e" stroke-width="0.9" fill="none"/>
<circle cx="424.30" cy="374.70" r="0.9" fill="#262626"/>
<circle cx="427.30" cy="374.70" r="0.9" fill="#262626"/>
<circle cx="430.30" cy="374.70" r="0.9" fill="#262626"/>
<path d="M395.4,372.5 L395.4,369.0 L446.5,369.0 L446.5,372.5" stroke="#2e2e2e" stroke-width="0.9" fill="none"/>
<circle cx="417.95" cy="365.80" r="0.9" fill="#262626"/>
<circle cx="420.95" cy="365.80" r="0.9" fill="#262626"/>
<circle cx="423.95" cy="365.80" r="0.9" fill="#262626"/>
<path d="M407.5,364.5 L407.5,361.0 L460.0,361.0 L460.0,364.5" stroke="#2e2e2e" stroke-width="0.9" fill="none"/>
<circle cx="432.25" cy="357.80" r="0.9" fill="#262626"/>
<circle cx="435.25" cy="357.80" r="0.9" fill="#262626"/>
<path d="M420.4,357.7 L420.4,354.2 L472.7,354.2 L472.7,357.7" stroke="#2e2e2e" stroke-width="0.9" fill="none"/>
<circle cx="443.55" cy="351.00" r="0.9" fill="#262626"/>
<circle cx="446.55" cy="351.00" r="0.9" fill="#262626"/>
<circle cx="449.55" cy="351.00" r="0.9" fill="#262626"/>
<path d="M433.6,351.0 L433.6,347.5 L486.1,347.5 L486.1,351.0" stroke="#2e2e2e" stroke-width="0.9" fill="none"/>
<circle cx="456.85" cy="344.30" r="0.9" fill="#262626"/>
<circle cx="459.85" cy="344.30" r="0.9" fill="#262626"/>
<circle cx="462.85" cy="344.30" r="0.9" fill="#262626"/>
<path d="M472.7,367.2 L472.7,363.7 L486.1,363.7 L486.1,367.2" stroke="#2e2e2e" stroke-width="0.9" fill="none"/>
<circle cx="476.40" cy="360.50" r="0.9" fill="#262626"/>
<circle cx="479.40" cy="360.50" r="0.9" fill="#262626"/>
<circle cx="482.40" cy="360.50" r="0.9" fill="#262626"/>
<path d="M460.0,378.7 L460.0,375.2 L486.1,375.2 L486.1,378.7" stroke="#2e2e2e" stroke-width="0.9" fill="none"/>
<circle cx="470.05" cy="372.00" r="0.9" fill="#262626"/>
<circle cx="473.05" cy="372.00" r="0.9" fill="#262626"/>
<circle cx="476.05" cy="372.00" r="0.9" fill="#262626"/>
<path d="M460.0,387.3 L460.0,383.8 L472.7,383.8 L472.7,387.3" stroke="#2e2e2e" stroke-width="0.9" fill="none"/>
<circle cx="463.35" cy="380.60" r="0.9" fill="#262626"/>
<circle cx="466.35" cy="380.60" r="0.9" fill="#262626"/>
<circle cx="469.35" cy="380.60" r="0.9" fill="#262626"/>
<text x="387.2" y="435.1" font-size="6.4" text-anchor="end" font-weight="normal" font-style="normal" fill="#2a2a2a" stroke="#2a2a2a" stroke-width="0.26">Vector</text>
<text x="387.2" y="445.2" font-size="6.4" text-anchor="end" font-weight="normal" font-style="normal" fill="#2a2a2a" stroke="#2a2a2a" stroke-width="0.26">FOXO1</text>
<text x="387.2" y="455.3" font-size="6.4" text-anchor="end" font-weight="normal" font-style="normal" fill="#2a2a2a" stroke="#2a2a2a" stroke-width="0.26">FOXO1-AAA</text>
<line x1="393.55" y1="433.05" x2="397.05" y2="433.05" stroke="#4a4a4a" stroke-width="1.05"/>
<line x1="406.6" y1="433.0" x2="410.0" y2="433.0" stroke="#333" stroke-width="0.95"/>
<line x1="408.3" y1="431.25" x2="408.3" y2="434.75" stroke="#333" stroke-width="0.95"/>
<line x1="419.45" y1="433.05" x2="422.95" y2="433.05" stroke="#4a4a4a" stroke-width="1.05"/>
<line x1="432.45" y1="433.05" x2="435.95" y2="433.05" stroke="#4a4a4a" stroke-width="1.05"/>
<line x1="445.05" y1="433.05" x2="448.55" y2="433.05" stroke="#4a4a4a" stroke-width="1.05"/>
<line x1="458.3" y1="433.0" x2="461.7" y2="433.0" stroke="#333" stroke-width="0.95"/>
<line x1="460.0" y1="431.25" x2="460.0" y2="434.75" stroke="#333" stroke-width="0.95"/>
<line x1="471.25" y1="433.05" x2="474.75" y2="433.05" stroke="#4a4a4a" stroke-width="1.05"/>
<line x1="484.05" y1="433.05" x2="487.55" y2="433.05" stroke="#4a4a4a" stroke-width="1.05"/>
<line x1="393.55" y1="443.15" x2="397.05" y2="443.15" stroke="#4a4a4a" stroke-width="1.05"/>
<line x1="406.55" y1="443.15" x2="410.05" y2="443.15" stroke="#4a4a4a" stroke-width="1.05"/>
<line x1="419.5" y1="443.09999999999997" x2="422.9" y2="443.09999999999997" stroke="#333" stroke-width="0.95"/>
<line x1="421.2" y1="441.34999999999997" x2="421.2" y2="444.84999999999997" stroke="#333" stroke-width="0.95"/>
<line x1="432.45" y1="443.15" x2="435.95" y2="443.15" stroke="#4a4a4a" stroke-width="1.05"/>
<line x1="445.05" y1="443.15" x2="448.55" y2="443.15" stroke="#4a4a4a" stroke-width="1.05"/>
<line x1="458.25" y1="443.15" x2="461.75" y2="443.15" stroke="#4a4a4a" stroke-width="1.05"/>
<line x1="471.3" y1="443.09999999999997" x2="474.7" y2="443.09999999999997" stroke="#333" stroke-width="0.95"/>
<line x1="473.0" y1="441.34999999999997" x2="473.0" y2="444.84999999999997" stroke="#333" stroke-width="0.95"/>
<line x1="484.05" y1="443.15" x2="487.55" y2="443.15" stroke="#4a4a4a" stroke-width="1.05"/>
<line x1="393.55" y1="453.25" x2="397.05" y2="453.25" stroke="#4a4a4a" stroke-width="1.05"/>
<line x1="406.55" y1="453.25" x2="410.05" y2="453.25" stroke="#4a4a4a" stroke-width="1.05"/>
<line x1="419.45" y1="453.25" x2="422.95" y2="453.25" stroke="#4a4a4a" stroke-width="1.05"/>
<line x1="432.5" y1="453.2" x2="435.9" y2="453.2" stroke="#333" stroke-width="0.95"/>
<line x1="434.2" y1="451.45" x2="434.2" y2="454.95" stroke="#333" stroke-width="0.95"/>
<line x1="445.05" y1="453.25" x2="448.55" y2="453.25" stroke="#4a4a4a" stroke-width="1.05"/>
<line x1="458.25" y1="453.25" x2="461.75" y2="453.25" stroke="#4a4a4a" stroke-width="1.05"/>
<line x1="471.25" y1="453.25" x2="474.75" y2="453.25" stroke="#4a4a4a" stroke-width="1.05"/>
<line x1="484.1" y1="453.2" x2="487.5" y2="453.2" stroke="#333" stroke-width="0.95"/>
<line x1="485.8" y1="451.45" x2="485.8" y2="454.95" stroke="#333" stroke-width="0.95"/>
<line x1="446.0" y1="460.1" x2="490.2" y2="460.1" stroke="#2e2e2e" stroke-width="1.2"/>
<text x="468.3" y="468.4" font-size="6.4" text-anchor="middle" font-weight="normal" font-style="normal" fill="#2a2a2a" stroke="#2a2a2a" stroke-width="0.26">BMP6</text>
<text x="367.0" y="395.5" font-size="7.4" text-anchor="middle" font-weight="normal" font-style="normal" fill="#2a2a2a" stroke="#2a2a2a" stroke-width="0.26" transform="rotate(-90 367.0 395.5)" textLength="57.4" lengthAdjust="spacingAndGlyphs">pSmad1/5/8/Smad1</text>
<rect x="0.5" y="0.5" width="519" height="476" fill="none" stroke="#5c5c5c" stroke-width="1"/>
</svg>
</body></html>
